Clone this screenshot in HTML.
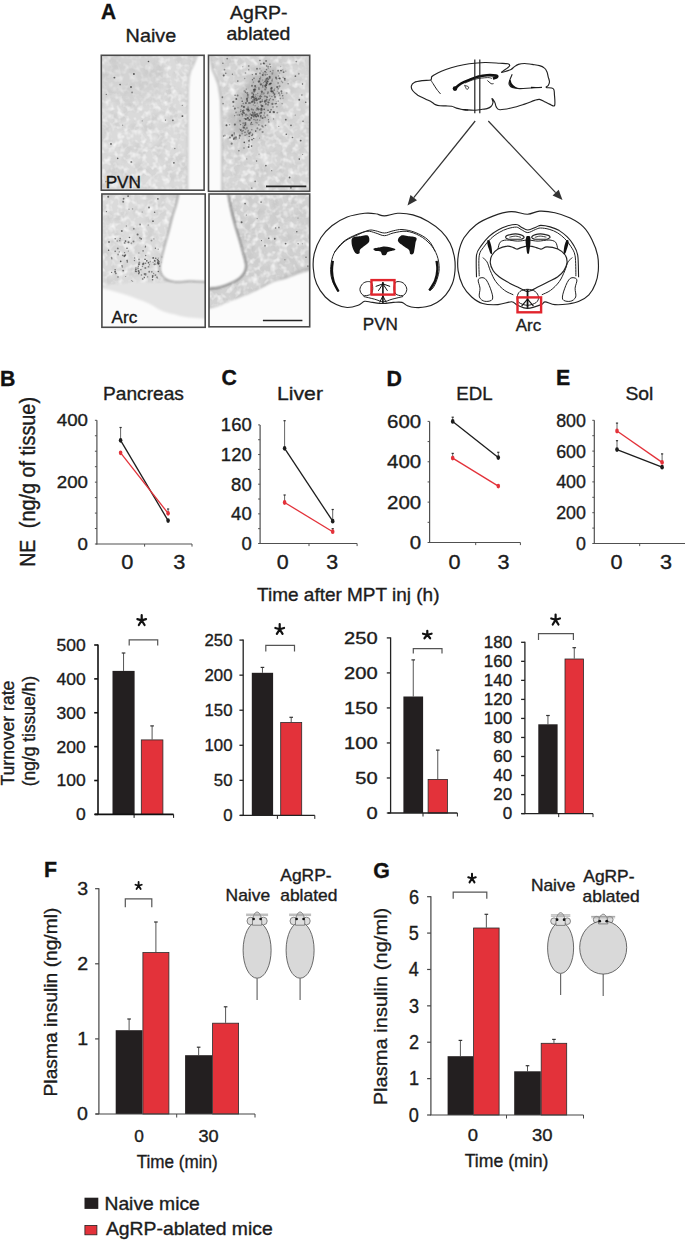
<!DOCTYPE html>
<html><head><meta charset="utf-8"><title>Figure</title>
<style>html,body{margin:0;padding:0;background:#fff;}body{width:685px;height:1240px;overflow:hidden;font-family:"Liberation Sans",sans-serif;}svg{display:block;}</style>
</head><body>
<svg width="685" height="1240" viewBox="0 0 685 1240" font-family="Liberation Sans, sans-serif"><text transform="translate(100.88,18.60) scale(0.940,1)" font-size="22.2" font-weight="bold" fill="#111" stroke="#111" stroke-width="0.35" xml:space="preserve">A</text>
<text transform="translate(125.62,42.30) scale(1.075,1)" font-size="18.4" fill="#1c1c1c" stroke="#1c1c1c" stroke-width="0.35" xml:space="preserve">Naive</text>
<text transform="translate(230.10,19.00) scale(1.070,1)" font-size="18.2" fill="#1c1c1c" stroke="#1c1c1c" stroke-width="0.35" xml:space="preserve">AgRP-</text>
<text transform="translate(226.52,40.40) scale(1.070,1)" font-size="18.2" fill="#1c1c1c" stroke="#1c1c1c" stroke-width="0.35" xml:space="preserve">ablated</text>
<defs>
<filter id="mott" x="0" y="0" width="1" height="1"><feTurbulence type="fractalNoise" baseFrequency="0.17" numOctaves="2" seed="3"/><feColorMatrix type="matrix" values="0 0 0 0 1  0 0 0 0 1  0 0 0 0 1  0 0 0 1.8 -0.82"/><feGaussianBlur stdDeviation="0.7"/></filter><filter id="mottd" x="0" y="0" width="1" height="1"><feTurbulence type="fractalNoise" baseFrequency="0.09" numOctaves="2" seed="11"/><feColorMatrix type="matrix" values="0 0 0 0 0.35  0 0 0 0 0.35  0 0 0 0 0.35  0 0 0 1.1 -0.5"/></filter>
<clipPath id="c0"><rect x="101.3" y="55.3" width="102.8" height="134.89999999999998"/></clipPath>
<clipPath id="c1"><rect x="208.5" y="55.3" width="101.19999999999999" height="136.0"/></clipPath>
<clipPath id="c2"><rect x="101.9" y="194" width="103.29999999999998" height="133.3"/></clipPath>
<clipPath id="c3"><rect x="209" y="194" width="100.69999999999999" height="132.8"/></clipPath>
</defs>
<defs><filter id="bl1" x="-50%" y="-50%" width="200%" height="200%"><feGaussianBlur stdDeviation="0.9"/></filter><filter id="bl05" x="-10%" y="-10%" width="120%" height="120%"><feGaussianBlur stdDeviation="0.45"/></filter><filter id="bl4" x="-50%" y="-50%" width="200%" height="200%"><feGaussianBlur stdDeviation="5"/></filter></defs>
<g clip-path="url(#c0)">
<rect x="101.30" y="55.30" width="102.80" height="134.90" fill="#dadada" stroke="none" stroke-width="0"/>
<rect x="101.3" y="55.3" width="102.8" height="134.89999999999998" filter="url(#mottd)" opacity="0.5"/>
<rect x="101.3" y="55.3" width="102.8" height="134.89999999999998" filter="url(#mott)"/>
<g filter="url(#bl1)"><circle cx="134.6" cy="75.6" r="2.1" fill="#f4f4f4" opacity="0.53"/><circle cx="156.4" cy="104.6" r="1.3" fill="#f4f4f4" opacity="0.70"/><circle cx="105.2" cy="113.8" r="1.3" fill="#f4f4f4" opacity="0.54"/><circle cx="144.9" cy="166.8" r="1.4" fill="#f4f4f4" opacity="0.59"/><circle cx="165.8" cy="183.1" r="2.0" fill="#f4f4f4" opacity="0.66"/><circle cx="201.7" cy="61.6" r="2.4" fill="#f4f4f4" opacity="0.62"/><circle cx="116.1" cy="71.2" r="1.6" fill="#f4f4f4" opacity="0.83"/><circle cx="119.9" cy="133.8" r="2.1" fill="#f4f4f4" opacity="0.65"/><circle cx="157.6" cy="63.8" r="1.3" fill="#f4f4f4" opacity="0.58"/><circle cx="171.2" cy="113.0" r="1.6" fill="#f4f4f4" opacity="0.73"/><circle cx="147.9" cy="95.7" r="2.3" fill="#f4f4f4" opacity="0.78"/><circle cx="126.4" cy="132.8" r="1.9" fill="#f4f4f4" opacity="0.85"/><circle cx="176.3" cy="94.1" r="2.6" fill="#f4f4f4" opacity="0.55"/><circle cx="144.3" cy="157.4" r="1.4" fill="#f4f4f4" opacity="0.70"/><circle cx="105.3" cy="145.4" r="2.3" fill="#f4f4f4" opacity="0.73"/><circle cx="191.3" cy="97.6" r="2.2" fill="#f4f4f4" opacity="0.74"/><circle cx="160.9" cy="116.8" r="2.4" fill="#f4f4f4" opacity="0.88"/><circle cx="150.0" cy="144.9" r="1.3" fill="#f4f4f4" opacity="0.78"/><circle cx="167.8" cy="189.3" r="2.4" fill="#f4f4f4" opacity="0.61"/><circle cx="141.0" cy="145.5" r="1.2" fill="#f4f4f4" opacity="0.68"/><circle cx="118.6" cy="71.1" r="1.3" fill="#f4f4f4" opacity="0.81"/><circle cx="114.6" cy="88.7" r="1.7" fill="#f4f4f4" opacity="0.85"/><circle cx="109.6" cy="115.9" r="2.0" fill="#f4f4f4" opacity="0.85"/><circle cx="185.5" cy="171.9" r="1.6" fill="#f4f4f4" opacity="0.67"/><circle cx="138.2" cy="174.6" r="2.5" fill="#f4f4f4" opacity="0.56"/><circle cx="119.4" cy="86.6" r="1.5" fill="#f4f4f4" opacity="0.69"/><circle cx="161.9" cy="90.7" r="1.2" fill="#f4f4f4" opacity="0.67"/><circle cx="139.3" cy="131.7" r="2.5" fill="#f4f4f4" opacity="0.78"/><circle cx="154.3" cy="138.6" r="2.1" fill="#f4f4f4" opacity="0.52"/><circle cx="193.8" cy="160.5" r="2.4" fill="#f4f4f4" opacity="0.82"/><circle cx="141.6" cy="109.1" r="1.3" fill="#f4f4f4" opacity="0.75"/><circle cx="107.7" cy="64.4" r="1.5" fill="#f4f4f4" opacity="0.56"/><circle cx="136.3" cy="62.4" r="1.2" fill="#f4f4f4" opacity="0.56"/><circle cx="111.7" cy="104.4" r="1.2" fill="#f4f4f4" opacity="0.85"/><circle cx="164.4" cy="75.3" r="1.6" fill="#f4f4f4" opacity="0.64"/></g>
<rect x="101.3" y="55.3" width="60" height="45" fill="#c4c4c4" opacity="0.3" filter="url(#bl4)"/>
<g filter="url(#bl05)"><circle cx="133.9" cy="74.0" r="0.93" fill="#444" opacity="0.90"/><circle cx="142.2" cy="120.9" r="0.59" fill="#444" opacity="0.50"/><circle cx="132.1" cy="92.4" r="0.92" fill="#444" opacity="0.52"/><circle cx="105.9" cy="181.6" r="0.79" fill="#444" opacity="0.52"/><circle cx="148.5" cy="61.5" r="0.79" fill="#444" opacity="0.89"/><circle cx="174.8" cy="148.5" r="0.67" fill="#444" opacity="0.62"/><circle cx="117.7" cy="158.4" r="0.79" fill="#444" opacity="0.80"/><circle cx="131.0" cy="87.0" r="0.92" fill="#444" opacity="0.89"/><circle cx="173.9" cy="162.8" r="0.92" fill="#444" opacity="0.78"/><circle cx="122.6" cy="125.3" r="0.71" fill="#444" opacity="0.46"/><circle cx="106.3" cy="94.3" r="0.67" fill="#444" opacity="0.76"/><circle cx="182.4" cy="116.1" r="0.97" fill="#444" opacity="0.89"/><circle cx="182.3" cy="105.4" r="0.65" fill="#444" opacity="0.55"/><circle cx="120.1" cy="84.6" r="0.83" fill="#444" opacity="0.86"/><circle cx="172.9" cy="120.3" r="0.84" fill="#444" opacity="0.81"/><circle cx="111.0" cy="143.9" r="0.96" fill="#444" opacity="0.80"/><circle cx="165.5" cy="120.1" r="0.63" fill="#444" opacity="0.81"/><circle cx="131.3" cy="162.1" r="0.99" fill="#444" opacity="0.63"/><circle cx="136.9" cy="181.1" r="0.88" fill="#444" opacity="0.53"/><circle cx="114.4" cy="77.6" r="0.96" fill="#444" opacity="0.81"/></g>
<g filter="url(#bl1)"><path d="M198.0,52.0 L197.0,56.0 L194.0,64.0 L190.5,71.0 L189.0,77.0 L188.2,90.0 L187.8,120.0 L187.5,200.0 L210.0,200.0 L210.0,52.0 Z" fill="#fbfbfb"/>
<path d="M198,52 L197,56 L194,64 L190.5,71 L189,77 L188.2,90 L187.8,120 L187.5,200" fill="none" stroke="#c0c0c0" stroke-width="1.4"/></g>
</g>
<g clip-path="url(#c1)">
<rect x="208.50" y="55.30" width="101.20" height="136.00" fill="#d5d5d5" stroke="none" stroke-width="0"/>
<rect x="208.5" y="55.3" width="101.19999999999999" height="136.0" filter="url(#mottd)" opacity="0.5"/>
<rect x="208.5" y="55.3" width="101.19999999999999" height="136.0" filter="url(#mott)"/>
<g filter="url(#bl1)"><circle cx="223.3" cy="167.7" r="2.6" fill="#f4f4f4" opacity="0.76"/><circle cx="244.0" cy="129.9" r="1.4" fill="#f4f4f4" opacity="0.51"/><circle cx="306.8" cy="143.7" r="1.9" fill="#f4f4f4" opacity="0.87"/><circle cx="252.4" cy="173.9" r="2.4" fill="#f4f4f4" opacity="0.58"/><circle cx="234.0" cy="95.1" r="1.5" fill="#f4f4f4" opacity="0.73"/><circle cx="234.7" cy="112.3" r="1.4" fill="#f4f4f4" opacity="0.86"/><circle cx="244.3" cy="117.6" r="2.0" fill="#f4f4f4" opacity="0.86"/><circle cx="251.1" cy="180.1" r="1.9" fill="#f4f4f4" opacity="0.71"/><circle cx="261.5" cy="57.8" r="1.8" fill="#f4f4f4" opacity="0.57"/><circle cx="208.9" cy="164.0" r="1.4" fill="#f4f4f4" opacity="0.69"/><circle cx="281.9" cy="131.0" r="1.7" fill="#f4f4f4" opacity="0.71"/><circle cx="264.7" cy="162.0" r="1.3" fill="#f4f4f4" opacity="0.72"/><circle cx="233.6" cy="93.0" r="2.3" fill="#f4f4f4" opacity="0.70"/><circle cx="265.3" cy="158.7" r="2.5" fill="#f4f4f4" opacity="0.68"/><circle cx="270.5" cy="124.1" r="1.9" fill="#f4f4f4" opacity="0.78"/><circle cx="254.3" cy="127.8" r="1.9" fill="#f4f4f4" opacity="0.88"/><circle cx="279.3" cy="174.5" r="2.5" fill="#f4f4f4" opacity="0.60"/><circle cx="265.1" cy="183.6" r="2.4" fill="#f4f4f4" opacity="0.55"/><circle cx="220.8" cy="115.4" r="1.3" fill="#f4f4f4" opacity="0.60"/><circle cx="215.9" cy="146.3" r="2.3" fill="#f4f4f4" opacity="0.86"/><circle cx="224.1" cy="152.7" r="2.1" fill="#f4f4f4" opacity="0.56"/><circle cx="297.8" cy="186.9" r="1.5" fill="#f4f4f4" opacity="0.88"/><circle cx="248.8" cy="121.6" r="2.6" fill="#f4f4f4" opacity="0.83"/><circle cx="224.8" cy="114.0" r="1.9" fill="#f4f4f4" opacity="0.64"/><circle cx="228.3" cy="98.6" r="2.2" fill="#f4f4f4" opacity="0.51"/><circle cx="264.6" cy="115.2" r="1.2" fill="#f4f4f4" opacity="0.63"/><circle cx="271.6" cy="125.0" r="1.3" fill="#f4f4f4" opacity="0.89"/><circle cx="288.3" cy="187.5" r="1.3" fill="#f4f4f4" opacity="0.61"/><circle cx="212.5" cy="161.2" r="1.6" fill="#f4f4f4" opacity="0.55"/><circle cx="251.2" cy="179.3" r="2.3" fill="#f4f4f4" opacity="0.60"/><circle cx="223.6" cy="180.3" r="2.0" fill="#f4f4f4" opacity="0.78"/><circle cx="217.6" cy="63.1" r="2.2" fill="#f4f4f4" opacity="0.67"/><circle cx="215.8" cy="182.9" r="2.1" fill="#f4f4f4" opacity="0.82"/><circle cx="217.0" cy="171.7" r="1.3" fill="#f4f4f4" opacity="0.85"/><circle cx="254.4" cy="101.4" r="2.0" fill="#f4f4f4" opacity="0.87"/></g>
<ellipse cx="256" cy="102" rx="17" ry="40" transform="rotate(27 256 102)" fill="#999" opacity="0.5" filter="url(#bl4)"/>
<g filter="url(#bl05)"><circle cx="254.2" cy="97.3" r="0.89" fill="#333" opacity="0.36"/><circle cx="249.3" cy="110.6" r="0.63" fill="#333" opacity="0.34"/><circle cx="255.1" cy="89.6" r="1.02" fill="#333" opacity="0.38"/><circle cx="265.5" cy="85.5" r="0.79" fill="#333" opacity="0.26"/><circle cx="256.5" cy="100.2" r="1.00" fill="#333" opacity="0.50"/><circle cx="243.9" cy="106.9" r="1.11" fill="#333" opacity="0.30"/><circle cx="260.9" cy="115.9" r="0.87" fill="#333" opacity="0.63"/><circle cx="262.8" cy="74.9" r="0.98" fill="#333" opacity="0.69"/><circle cx="257.0" cy="68.8" r="0.99" fill="#333" opacity="0.54"/><circle cx="262.7" cy="80.0" r="0.63" fill="#333" opacity="0.31"/><circle cx="234.2" cy="134.5" r="0.74" fill="#333" opacity="0.32"/><circle cx="229.9" cy="137.6" r="1.08" fill="#333" opacity="0.55"/><circle cx="253.5" cy="94.2" r="0.76" fill="#333" opacity="0.46"/><circle cx="243.1" cy="111.8" r="0.74" fill="#333" opacity="0.68"/><circle cx="245.0" cy="132.3" r="0.73" fill="#333" opacity="0.68"/><circle cx="254.7" cy="88.8" r="0.60" fill="#333" opacity="0.42"/><circle cx="270.4" cy="71.4" r="0.71" fill="#333" opacity="0.48"/><circle cx="248.4" cy="120.1" r="0.65" fill="#333" opacity="0.43"/><circle cx="255.1" cy="105.7" r="0.77" fill="#333" opacity="0.35"/><circle cx="276.0" cy="77.6" r="1.01" fill="#333" opacity="0.55"/><circle cx="280.4" cy="98.5" r="0.81" fill="#333" opacity="0.40"/><circle cx="251.7" cy="115.1" r="1.00" fill="#333" opacity="0.54"/><circle cx="231.7" cy="143.7" r="1.09" fill="#333" opacity="0.53"/><circle cx="275.8" cy="103.9" r="0.68" fill="#333" opacity="0.49"/><circle cx="253.2" cy="97.0" r="0.92" fill="#333" opacity="0.65"/><circle cx="277.5" cy="91.3" r="0.73" fill="#333" opacity="0.26"/><circle cx="244.4" cy="113.6" r="0.66" fill="#333" opacity="0.63"/><circle cx="278.1" cy="70.7" r="0.94" fill="#333" opacity="0.56"/><circle cx="258.9" cy="98.9" r="1.04" fill="#333" opacity="0.59"/><circle cx="273.0" cy="70.6" r="0.96" fill="#333" opacity="0.28"/><circle cx="265.2" cy="102.5" r="0.64" fill="#333" opacity="0.37"/><circle cx="264.8" cy="101.5" r="1.01" fill="#333" opacity="0.69"/><circle cx="269.5" cy="76.6" r="0.86" fill="#333" opacity="0.56"/><circle cx="268.0" cy="110.3" r="0.95" fill="#333" opacity="0.28"/><circle cx="247.3" cy="109.7" r="1.01" fill="#333" opacity="0.39"/><circle cx="260.3" cy="97.6" r="0.63" fill="#333" opacity="0.37"/><circle cx="278.2" cy="88.8" r="0.97" fill="#333" opacity="0.38"/><circle cx="272.3" cy="74.0" r="0.86" fill="#333" opacity="0.30"/><circle cx="255.2" cy="115.5" r="1.14" fill="#333" opacity="0.67"/><circle cx="243.7" cy="127.5" r="1.05" fill="#333" opacity="0.69"/><circle cx="264.9" cy="81.4" r="0.72" fill="#333" opacity="0.68"/><circle cx="243.2" cy="103.5" r="0.68" fill="#333" opacity="0.49"/><circle cx="253.2" cy="114.1" r="1.05" fill="#333" opacity="0.48"/><circle cx="252.5" cy="134.2" r="0.73" fill="#333" opacity="0.65"/><circle cx="260.5" cy="95.3" r="0.60" fill="#333" opacity="0.47"/><circle cx="265.5" cy="80.0" r="0.68" fill="#333" opacity="0.40"/><circle cx="252.3" cy="74.6" r="0.60" fill="#333" opacity="0.59"/><circle cx="258.4" cy="109.3" r="1.11" fill="#333" opacity="0.57"/><circle cx="254.0" cy="119.5" r="0.80" fill="#333" opacity="0.43"/><circle cx="242.1" cy="133.8" r="0.80" fill="#333" opacity="0.44"/><circle cx="255.9" cy="98.4" r="0.66" fill="#333" opacity="0.63"/><circle cx="244.7" cy="78.6" r="0.74" fill="#333" opacity="0.37"/><circle cx="266.1" cy="85.2" r="0.81" fill="#333" opacity="0.68"/><circle cx="252.0" cy="139.6" r="0.95" fill="#333" opacity="0.66"/><circle cx="247.8" cy="131.7" r="1.00" fill="#333" opacity="0.27"/><circle cx="268.7" cy="102.5" r="1.01" fill="#333" opacity="0.54"/><circle cx="256.2" cy="97.9" r="1.11" fill="#333" opacity="0.31"/><circle cx="267.5" cy="78.0" r="0.76" fill="#333" opacity="0.58"/><circle cx="249.8" cy="120.3" r="0.96" fill="#333" opacity="0.39"/><circle cx="272.3" cy="79.3" r="0.69" fill="#333" opacity="0.32"/><circle cx="233.3" cy="106.2" r="0.87" fill="#333" opacity="0.35"/><circle cx="262.8" cy="87.4" r="0.71" fill="#333" opacity="0.29"/><circle cx="257.7" cy="93.5" r="0.73" fill="#333" opacity="0.37"/><circle cx="268.6" cy="79.1" r="0.83" fill="#333" opacity="0.49"/><circle cx="275.9" cy="78.2" r="0.63" fill="#333" opacity="0.37"/><circle cx="246.0" cy="114.4" r="0.88" fill="#333" opacity="0.53"/><circle cx="255.4" cy="96.4" r="0.75" fill="#333" opacity="0.36"/><circle cx="271.9" cy="91.5" r="1.12" fill="#333" opacity="0.63"/><circle cx="249.1" cy="116.0" r="0.62" fill="#333" opacity="0.57"/><circle cx="252.1" cy="93.5" r="0.92" fill="#333" opacity="0.25"/><circle cx="281.4" cy="91.3" r="1.05" fill="#333" opacity="0.63"/><circle cx="234.4" cy="133.2" r="0.66" fill="#333" opacity="0.32"/><circle cx="272.4" cy="103.9" r="1.12" fill="#333" opacity="0.57"/><circle cx="269.3" cy="99.9" r="0.85" fill="#333" opacity="0.50"/><circle cx="259.9" cy="60.4" r="0.73" fill="#333" opacity="0.66"/><circle cx="257.3" cy="113.6" r="0.67" fill="#333" opacity="0.36"/><circle cx="274.8" cy="88.5" r="0.66" fill="#333" opacity="0.28"/><circle cx="283.2" cy="77.6" r="0.81" fill="#333" opacity="0.35"/><circle cx="261.4" cy="96.4" r="0.77" fill="#333" opacity="0.46"/><circle cx="247.2" cy="93.0" r="1.09" fill="#333" opacity="0.46"/><circle cx="261.8" cy="91.6" r="1.13" fill="#333" opacity="0.57"/><circle cx="249.6" cy="119.7" r="0.87" fill="#333" opacity="0.55"/><circle cx="261.4" cy="108.5" r="0.97" fill="#333" opacity="0.67"/><circle cx="253.2" cy="109.9" r="0.79" fill="#333" opacity="0.44"/><circle cx="257.2" cy="108.4" r="1.04" fill="#333" opacity="0.58"/><circle cx="271.1" cy="88.8" r="1.13" fill="#333" opacity="0.39"/><circle cx="255.6" cy="99.1" r="0.72" fill="#333" opacity="0.59"/><circle cx="271.7" cy="87.6" r="0.87" fill="#333" opacity="0.33"/><circle cx="247.2" cy="100.9" r="0.97" fill="#333" opacity="0.68"/><circle cx="243.9" cy="112.5" r="0.72" fill="#333" opacity="0.69"/><circle cx="253.4" cy="104.9" r="0.63" fill="#333" opacity="0.43"/><circle cx="248.6" cy="147.0" r="1.00" fill="#333" opacity="0.70"/><circle cx="251.4" cy="122.4" r="0.70" fill="#333" opacity="0.67"/><circle cx="260.2" cy="101.8" r="0.97" fill="#333" opacity="0.42"/><circle cx="260.1" cy="82.7" r="0.69" fill="#333" opacity="0.25"/><circle cx="252.3" cy="92.8" r="1.13" fill="#333" opacity="0.31"/><circle cx="251.3" cy="117.9" r="0.80" fill="#333" opacity="0.62"/><circle cx="260.6" cy="116.3" r="0.63" fill="#333" opacity="0.46"/><circle cx="235.8" cy="139.1" r="1.09" fill="#333" opacity="0.26"/><circle cx="260.5" cy="129.3" r="1.02" fill="#333" opacity="0.27"/><circle cx="243.3" cy="123.3" r="1.11" fill="#333" opacity="0.37"/><circle cx="257.4" cy="103.0" r="0.79" fill="#333" opacity="0.37"/><circle cx="245.1" cy="135.3" r="0.74" fill="#333" opacity="0.57"/><circle cx="255.6" cy="89.8" r="0.60" fill="#333" opacity="0.59"/><circle cx="249.3" cy="134.0" r="1.12" fill="#333" opacity="0.26"/><circle cx="247.0" cy="99.0" r="1.13" fill="#333" opacity="0.68"/><circle cx="260.7" cy="84.7" r="0.84" fill="#333" opacity="0.47"/><circle cx="253.5" cy="116.1" r="1.04" fill="#333" opacity="0.58"/><circle cx="262.1" cy="126.0" r="0.93" fill="#333" opacity="0.40"/><circle cx="255.5" cy="87.5" r="1.03" fill="#333" opacity="0.29"/><circle cx="238.0" cy="107.7" r="0.74" fill="#333" opacity="0.28"/><circle cx="240.8" cy="130.3" r="0.78" fill="#333" opacity="0.69"/><circle cx="254.9" cy="98.2" r="0.65" fill="#333" opacity="0.47"/><circle cx="270.3" cy="98.6" r="0.73" fill="#333" opacity="0.44"/><circle cx="279.8" cy="78.4" r="1.01" fill="#333" opacity="0.63"/><circle cx="264.9" cy="96.3" r="1.06" fill="#333" opacity="0.38"/><circle cx="272.0" cy="80.8" r="1.01" fill="#333" opacity="0.34"/><circle cx="251.4" cy="98.1" r="0.68" fill="#333" opacity="0.65"/><circle cx="271.0" cy="83.4" r="0.82" fill="#333" opacity="0.70"/><circle cx="267.0" cy="83.2" r="1.04" fill="#333" opacity="0.54"/><circle cx="252.7" cy="112.4" r="0.86" fill="#333" opacity="0.62"/><circle cx="259.6" cy="138.1" r="0.62" fill="#333" opacity="0.38"/><circle cx="248.5" cy="110.7" r="1.14" fill="#333" opacity="0.51"/><circle cx="251.0" cy="124.1" r="1.08" fill="#333" opacity="0.45"/><circle cx="244.5" cy="91.0" r="1.12" fill="#333" opacity="0.30"/><circle cx="278.5" cy="76.0" r="0.72" fill="#333" opacity="0.42"/><circle cx="248.4" cy="109.2" r="0.74" fill="#333" opacity="0.52"/><circle cx="267.4" cy="93.6" r="0.61" fill="#333" opacity="0.40"/><circle cx="266.3" cy="96.4" r="0.77" fill="#333" opacity="0.34"/><circle cx="264.1" cy="114.6" r="0.63" fill="#333" opacity="0.30"/><circle cx="263.4" cy="73.1" r="0.95" fill="#333" opacity="0.29"/><circle cx="237.2" cy="115.0" r="0.83" fill="#333" opacity="0.38"/><circle cx="248.8" cy="69.7" r="0.77" fill="#333" opacity="0.50"/><circle cx="258.8" cy="81.6" r="1.08" fill="#333" opacity="0.70"/><circle cx="258.9" cy="88.1" r="1.00" fill="#333" opacity="0.34"/><circle cx="271.1" cy="109.7" r="0.82" fill="#333" opacity="0.65"/><circle cx="252.7" cy="124.3" r="0.61" fill="#333" opacity="0.50"/><circle cx="268.1" cy="110.3" r="0.65" fill="#333" opacity="0.53"/><circle cx="260.5" cy="77.3" r="0.68" fill="#333" opacity="0.38"/><circle cx="253.9" cy="89.7" r="1.04" fill="#333" opacity="0.69"/><circle cx="247.8" cy="118.2" r="1.12" fill="#333" opacity="0.69"/><circle cx="254.9" cy="114.4" r="1.11" fill="#333" opacity="0.42"/><circle cx="247.8" cy="97.0" r="1.05" fill="#333" opacity="0.32"/><circle cx="266.1" cy="80.9" r="0.82" fill="#333" opacity="0.63"/><circle cx="263.7" cy="82.6" r="0.72" fill="#333" opacity="0.43"/><circle cx="273.0" cy="91.2" r="0.67" fill="#333" opacity="0.36"/><circle cx="262.2" cy="99.6" r="0.62" fill="#333" opacity="0.50"/><circle cx="260.2" cy="102.4" r="1.06" fill="#333" opacity="0.30"/><circle cx="276.6" cy="78.8" r="0.94" fill="#333" opacity="0.39"/><circle cx="266.5" cy="69.7" r="0.83" fill="#333" opacity="0.55"/><circle cx="267.2" cy="74.5" r="0.61" fill="#333" opacity="0.53"/><circle cx="266.4" cy="82.7" r="1.02" fill="#333" opacity="0.60"/><circle cx="263.9" cy="85.3" r="0.86" fill="#333" opacity="0.30"/><circle cx="242.6" cy="115.8" r="0.65" fill="#333" opacity="0.45"/><circle cx="261.6" cy="93.9" r="0.95" fill="#333" opacity="0.29"/><circle cx="274.9" cy="103.7" r="0.88" fill="#333" opacity="0.27"/><circle cx="269.9" cy="77.0" r="1.12" fill="#333" opacity="0.31"/><circle cx="276.1" cy="103.4" r="0.71" fill="#333" opacity="0.69"/><circle cx="252.0" cy="101.9" r="1.03" fill="#333" opacity="0.67"/><circle cx="254.4" cy="89.9" r="1.02" fill="#333" opacity="0.32"/><circle cx="248.1" cy="107.4" r="1.05" fill="#333" opacity="0.31"/><circle cx="283.0" cy="98.3" r="0.71" fill="#333" opacity="0.37"/><circle cx="265.9" cy="103.8" r="0.62" fill="#333" opacity="0.33"/><circle cx="247.8" cy="94.9" r="0.97" fill="#333" opacity="0.65"/><circle cx="234.7" cy="115.6" r="0.66" fill="#333" opacity="0.49"/><circle cx="271.5" cy="88.7" r="1.08" fill="#333" opacity="0.50"/><circle cx="248.7" cy="66.0" r="0.95" fill="#333" opacity="0.43"/><circle cx="261.6" cy="109.7" r="1.14" fill="#333" opacity="0.51"/><circle cx="259.9" cy="68.7" r="0.84" fill="#333" opacity="0.33"/><circle cx="260.8" cy="101.9" r="1.05" fill="#333" opacity="0.36"/><circle cx="279.7" cy="72.9" r="0.77" fill="#333" opacity="0.25"/><circle cx="250.3" cy="114.1" r="0.94" fill="#333" opacity="0.44"/><circle cx="255.9" cy="94.7" r="0.96" fill="#333" opacity="0.26"/><circle cx="243.6" cy="110.0" r="0.66" fill="#333" opacity="0.41"/><circle cx="256.0" cy="100.4" r="0.92" fill="#333" opacity="0.34"/><circle cx="249.2" cy="136.4" r="0.67" fill="#333" opacity="0.67"/><circle cx="267.4" cy="81.2" r="0.65" fill="#333" opacity="0.54"/><circle cx="240.9" cy="109.9" r="0.82" fill="#333" opacity="0.37"/><circle cx="260.9" cy="63.9" r="0.91" fill="#333" opacity="0.41"/><circle cx="262.4" cy="106.2" r="1.12" fill="#333" opacity="0.58"/><circle cx="268.1" cy="79.7" r="0.62" fill="#333" opacity="0.49"/><circle cx="261.8" cy="84.1" r="0.63" fill="#333" opacity="0.60"/><circle cx="242.0" cy="131.5" r="1.12" fill="#333" opacity="0.31"/><circle cx="241.8" cy="106.0" r="0.88" fill="#333" opacity="0.54"/><circle cx="260.0" cy="109.2" r="0.77" fill="#333" opacity="0.39"/><circle cx="247.7" cy="115.0" r="0.60" fill="#333" opacity="0.63"/><circle cx="268.0" cy="104.7" r="1.01" fill="#333" opacity="0.45"/><circle cx="253.2" cy="100.7" r="0.73" fill="#333" opacity="0.27"/><circle cx="256.0" cy="74.0" r="0.98" fill="#333" opacity="0.63"/><circle cx="266.8" cy="99.5" r="0.90" fill="#333" opacity="0.45"/><circle cx="264.6" cy="113.0" r="0.75" fill="#333" opacity="0.54"/><circle cx="251.1" cy="118.3" r="1.08" fill="#333" opacity="0.26"/><circle cx="252.3" cy="96.7" r="1.01" fill="#333" opacity="0.68"/><circle cx="265.9" cy="104.1" r="1.08" fill="#333" opacity="0.40"/><circle cx="237.6" cy="95.5" r="0.95" fill="#333" opacity="0.56"/><circle cx="295.4" cy="76.2" r="0.86" fill="#333" opacity="0.63"/><circle cx="281.6" cy="93.0" r="0.84" fill="#333" opacity="0.58"/><circle cx="270.4" cy="83.4" r="0.72" fill="#333" opacity="0.53"/><circle cx="244.4" cy="125.7" r="0.66" fill="#333" opacity="0.67"/><circle cx="258.4" cy="106.7" r="0.62" fill="#333" opacity="0.27"/><circle cx="256.8" cy="114.2" r="0.98" fill="#333" opacity="0.58"/><circle cx="263.5" cy="63.2" r="0.80" fill="#333" opacity="0.62"/><circle cx="243.9" cy="110.4" r="0.64" fill="#333" opacity="0.64"/><circle cx="268.2" cy="68.4" r="0.66" fill="#333" opacity="0.27"/><circle cx="243.9" cy="106.9" r="0.95" fill="#333" opacity="0.62"/><circle cx="280.7" cy="66.5" r="0.65" fill="#333" opacity="0.29"/><circle cx="265.0" cy="85.9" r="0.78" fill="#333" opacity="0.44"/><circle cx="259.6" cy="81.1" r="0.76" fill="#333" opacity="0.57"/><circle cx="261.9" cy="105.9" r="1.13" fill="#333" opacity="0.48"/><circle cx="243.2" cy="113.4" r="0.62" fill="#333" opacity="0.44"/><circle cx="284.9" cy="80.1" r="0.79" fill="#333" opacity="0.57"/><circle cx="255.8" cy="120.2" r="1.07" fill="#333" opacity="0.29"/><circle cx="257.8" cy="95.8" r="0.60" fill="#333" opacity="0.34"/><circle cx="262.8" cy="86.4" r="0.60" fill="#333" opacity="0.47"/><circle cx="252.9" cy="101.3" r="0.79" fill="#333" opacity="0.62"/><circle cx="246.5" cy="127.9" r="0.76" fill="#333" opacity="0.35"/><circle cx="271.9" cy="96.5" r="0.66" fill="#333" opacity="0.54"/><circle cx="232.2" cy="135.2" r="0.98" fill="#333" opacity="0.60"/><circle cx="271.6" cy="87.7" r="0.82" fill="#333" opacity="0.43"/><circle cx="256.4" cy="110.1" r="1.09" fill="#333" opacity="0.26"/><circle cx="249.0" cy="103.0" r="1.10" fill="#333" opacity="0.48"/><circle cx="239.9" cy="135.5" r="0.89" fill="#333" opacity="0.59"/><circle cx="244.5" cy="128.0" r="0.79" fill="#333" opacity="0.40"/><circle cx="266.1" cy="60.9" r="0.96" fill="#333" opacity="0.58"/><circle cx="234.4" cy="137.9" r="1.03" fill="#333" opacity="0.51"/><circle cx="240.0" cy="120.8" r="1.09" fill="#333" opacity="0.36"/><circle cx="245.9" cy="119.1" r="0.99" fill="#333" opacity="0.63"/><circle cx="245.7" cy="119.0" r="0.74" fill="#333" opacity="0.40"/><circle cx="257.2" cy="115.2" r="0.78" fill="#333" opacity="0.34"/><circle cx="245.4" cy="92.2" r="0.66" fill="#333" opacity="0.68"/><circle cx="254.3" cy="91.4" r="1.14" fill="#333" opacity="0.61"/><circle cx="251.9" cy="115.8" r="0.71" fill="#333" opacity="0.54"/><circle cx="266.2" cy="72.5" r="0.81" fill="#333" opacity="0.27"/><circle cx="265.1" cy="117.2" r="0.98" fill="#333" opacity="0.48"/><circle cx="251.8" cy="129.8" r="0.68" fill="#333" opacity="0.52"/><circle cx="279.5" cy="86.3" r="1.10" fill="#333" opacity="0.44"/><circle cx="259.6" cy="129.9" r="0.83" fill="#333" opacity="0.35"/><circle cx="270.0" cy="84.1" r="1.03" fill="#333" opacity="0.57"/><circle cx="257.4" cy="128.2" r="0.95" fill="#333" opacity="0.45"/><circle cx="253.4" cy="82.1" r="0.65" fill="#333" opacity="0.44"/><circle cx="267.4" cy="115.2" r="0.95" fill="#333" opacity="0.36"/><circle cx="265.4" cy="74.7" r="0.94" fill="#333" opacity="0.43"/><circle cx="288.1" cy="83.8" r="0.70" fill="#333" opacity="0.54"/><circle cx="264.2" cy="109.3" r="0.87" fill="#333" opacity="0.69"/><circle cx="240.9" cy="129.6" r="0.69" fill="#333" opacity="0.60"/><circle cx="248.2" cy="130.5" r="0.66" fill="#333" opacity="0.51"/><circle cx="275.0" cy="96.9" r="1.06" fill="#333" opacity="0.48"/><circle cx="276.9" cy="106.8" r="0.72" fill="#333" opacity="0.56"/><circle cx="253.7" cy="138.4" r="0.67" fill="#333" opacity="0.69"/><circle cx="247.1" cy="127.9" r="0.75" fill="#333" opacity="0.43"/><circle cx="245.9" cy="103.2" r="0.83" fill="#333" opacity="0.56"/><circle cx="261.0" cy="105.0" r="0.72" fill="#333" opacity="0.58"/><circle cx="240.7" cy="111.6" r="0.72" fill="#333" opacity="0.61"/><circle cx="268.0" cy="92.0" r="0.67" fill="#333" opacity="0.60"/><circle cx="248.4" cy="109.4" r="0.86" fill="#333" opacity="0.50"/><circle cx="270.5" cy="66.8" r="0.79" fill="#333" opacity="0.54"/><circle cx="263.0" cy="126.8" r="0.86" fill="#333" opacity="0.38"/><circle cx="265.2" cy="89.4" r="1.06" fill="#333" opacity="0.41"/><circle cx="257.8" cy="115.0" r="0.81" fill="#333" opacity="0.36"/><circle cx="262.4" cy="85.6" r="0.60" fill="#333" opacity="0.57"/><circle cx="253.5" cy="94.2" r="0.77" fill="#333" opacity="0.47"/><circle cx="268.1" cy="66.8" r="0.96" fill="#333" opacity="0.41"/><circle cx="244.0" cy="148.0" r="0.63" fill="#333" opacity="0.62"/><circle cx="248.9" cy="140.7" r="0.68" fill="#333" opacity="0.62"/><circle cx="260.5" cy="98.6" r="0.61" fill="#333" opacity="0.68"/><circle cx="268.4" cy="93.1" r="0.66" fill="#333" opacity="0.31"/><circle cx="241.2" cy="98.1" r="0.79" fill="#333" opacity="0.32"/><circle cx="249.1" cy="141.0" r="0.69" fill="#333" opacity="0.65"/><circle cx="283.6" cy="72.1" r="0.97" fill="#333" opacity="0.65"/><circle cx="268.4" cy="119.8" r="0.71" fill="#333" opacity="0.56"/><circle cx="278.2" cy="101.1" r="0.91" fill="#333" opacity="0.37"/><circle cx="248.2" cy="119.8" r="0.87" fill="#333" opacity="0.28"/><circle cx="256.1" cy="116.6" r="0.87" fill="#333" opacity="0.47"/><circle cx="273.1" cy="111.8" r="0.60" fill="#333" opacity="0.63"/><circle cx="274.6" cy="94.1" r="0.97" fill="#333" opacity="0.63"/><circle cx="261.2" cy="110.3" r="1.13" fill="#333" opacity="0.28"/><circle cx="257.1" cy="122.9" r="0.62" fill="#333" opacity="0.52"/><circle cx="279.1" cy="78.3" r="0.78" fill="#333" opacity="0.69"/><circle cx="272.4" cy="73.0" r="1.09" fill="#333" opacity="0.27"/><circle cx="273.1" cy="99.8" r="0.79" fill="#333" opacity="0.64"/><circle cx="259.9" cy="78.8" r="0.89" fill="#333" opacity="0.60"/><circle cx="246.0" cy="103.0" r="0.83" fill="#333" opacity="0.50"/><circle cx="259.7" cy="113.5" r="1.06" fill="#333" opacity="0.43"/><circle cx="267.7" cy="81.4" r="0.88" fill="#333" opacity="0.69"/><circle cx="282.5" cy="82.4" r="0.78" fill="#333" opacity="0.39"/><circle cx="252.0" cy="85.7" r="0.95" fill="#333" opacity="0.60"/><circle cx="236.0" cy="137.4" r="1.09" fill="#333" opacity="0.50"/><circle cx="246.1" cy="119.6" r="0.60" fill="#333" opacity="0.34"/><circle cx="249.1" cy="133.3" r="0.96" fill="#333" opacity="0.61"/><circle cx="250.4" cy="132.5" r="0.94" fill="#333" opacity="0.53"/><circle cx="274.2" cy="95.2" r="0.97" fill="#333" opacity="0.35"/><circle cx="272.8" cy="91.3" r="1.02" fill="#333" opacity="0.30"/><circle cx="254.5" cy="102.7" r="1.03" fill="#333" opacity="0.66"/><circle cx="271.2" cy="91.0" r="1.05" fill="#333" opacity="0.60"/><circle cx="269.1" cy="84.5" r="0.77" fill="#333" opacity="0.44"/><circle cx="255.1" cy="86.0" r="0.95" fill="#333" opacity="0.67"/><circle cx="239.6" cy="129.1" r="0.62" fill="#333" opacity="0.30"/><circle cx="262.6" cy="117.9" r="1.11" fill="#333" opacity="0.45"/><circle cx="245.4" cy="124.8" r="0.93" fill="#333" opacity="0.67"/><circle cx="245.6" cy="129.2" r="0.83" fill="#333" opacity="0.30"/><circle cx="267.8" cy="92.7" r="0.68" fill="#333" opacity="0.26"/><circle cx="239.4" cy="138.0" r="0.67" fill="#333" opacity="0.68"/><circle cx="228.3" cy="138.7" r="0.67" fill="#333" opacity="0.26"/><circle cx="266.0" cy="100.4" r="1.00" fill="#333" opacity="0.33"/><circle cx="233.8" cy="139.0" r="0.99" fill="#333" opacity="0.63"/><circle cx="262.2" cy="101.3" r="0.95" fill="#333" opacity="0.57"/><circle cx="251.7" cy="115.2" r="0.99" fill="#333" opacity="0.26"/><circle cx="239.5" cy="135.9" r="1.05" fill="#333" opacity="0.29"/><circle cx="252.5" cy="79.8" r="0.69" fill="#333" opacity="0.64"/><circle cx="261.9" cy="92.2" r="0.80" fill="#333" opacity="0.51"/><circle cx="269.9" cy="64.3" r="0.68" fill="#333" opacity="0.61"/><circle cx="260.0" cy="73.2" r="0.95" fill="#333" opacity="0.44"/><circle cx="264.0" cy="63.5" r="1.12" fill="#333" opacity="0.60"/><circle cx="270.0" cy="83.6" r="0.63" fill="#333" opacity="0.69"/><circle cx="279.8" cy="95.0" r="0.78" fill="#333" opacity="0.52"/><circle cx="267.1" cy="97.2" r="0.84" fill="#333" opacity="0.65"/><circle cx="273.4" cy="92.9" r="0.93" fill="#333" opacity="0.65"/><circle cx="242.8" cy="125.9" r="0.60" fill="#333" opacity="0.37"/><circle cx="277.2" cy="87.0" r="1.05" fill="#333" opacity="0.65"/><circle cx="234.9" cy="108.6" r="1.05" fill="#333" opacity="0.64"/><circle cx="258.2" cy="116.1" r="1.07" fill="#333" opacity="0.61"/><circle cx="269.7" cy="96.0" r="0.79" fill="#333" opacity="0.29"/><circle cx="260.7" cy="84.2" r="1.11" fill="#333" opacity="0.36"/><circle cx="249.0" cy="144.8" r="0.86" fill="#333" opacity="0.34"/><circle cx="269.7" cy="78.1" r="1.04" fill="#333" opacity="0.46"/><circle cx="224.8" cy="135.5" r="1.02" fill="#333" opacity="0.35"/><circle cx="262.6" cy="132.0" r="1.09" fill="#333" opacity="0.48"/><circle cx="281.5" cy="81.3" r="0.70" fill="#333" opacity="0.34"/><circle cx="250.1" cy="103.0" r="0.80" fill="#333" opacity="0.50"/><circle cx="249.5" cy="139.7" r="0.68" fill="#333" opacity="0.27"/><circle cx="241.4" cy="113.9" r="0.66" fill="#333" opacity="0.53"/><circle cx="257.1" cy="99.9" r="0.93" fill="#333" opacity="0.41"/><circle cx="266.5" cy="87.8" r="0.62" fill="#333" opacity="0.70"/><circle cx="251.7" cy="97.1" r="0.91" fill="#333" opacity="0.37"/><circle cx="266.7" cy="78.9" r="1.12" fill="#333" opacity="0.60"/><circle cx="261.2" cy="70.9" r="0.74" fill="#333" opacity="0.27"/><circle cx="250.6" cy="103.1" r="0.65" fill="#333" opacity="0.27"/><circle cx="286.6" cy="93.1" r="1.10" fill="#333" opacity="0.28"/><circle cx="257.5" cy="119.8" r="0.67" fill="#333" opacity="0.68"/><circle cx="265.5" cy="86.8" r="0.95" fill="#333" opacity="0.68"/><circle cx="246.7" cy="134.6" r="0.85" fill="#333" opacity="0.32"/><circle cx="242.7" cy="66.8" r="0.72" fill="#333" opacity="0.27"/><circle cx="266.2" cy="84.8" r="1.10" fill="#333" opacity="0.66"/><circle cx="245.4" cy="123.1" r="1.03" fill="#333" opacity="0.57"/><circle cx="276.2" cy="101.7" r="0.63" fill="#333" opacity="0.32"/><circle cx="277.3" cy="112.6" r="0.97" fill="#333" opacity="0.38"/><circle cx="282.8" cy="69.9" r="0.66" fill="#333" opacity="0.40"/><circle cx="253.9" cy="98.2" r="0.86" fill="#333" opacity="0.33"/><circle cx="252.8" cy="99.6" r="0.97" fill="#333" opacity="0.26"/><circle cx="265.1" cy="100.3" r="0.62" fill="#333" opacity="0.67"/><circle cx="233.3" cy="101.9" r="1.08" fill="#333" opacity="0.65"/><circle cx="242.5" cy="114.5" r="0.65" fill="#333" opacity="0.67"/><circle cx="258.8" cy="124.8" r="0.85" fill="#333" opacity="0.40"/><circle cx="260.7" cy="117.6" r="0.95" fill="#333" opacity="0.31"/><circle cx="254.4" cy="101.0" r="0.99" fill="#333" opacity="0.50"/><circle cx="229.5" cy="124.8" r="0.75" fill="#333" opacity="0.44"/><circle cx="247.0" cy="109.1" r="1.06" fill="#333" opacity="0.40"/><circle cx="242.5" cy="110.8" r="0.77" fill="#333" opacity="0.66"/><circle cx="219.1" cy="137.5" r="0.97" fill="#333" opacity="0.35"/><circle cx="256.0" cy="122.6" r="0.74" fill="#333" opacity="0.34"/><circle cx="273.9" cy="112.2" r="1.15" fill="#333" opacity="0.67"/><circle cx="245.8" cy="115.6" r="1.09" fill="#333" opacity="0.28"/><circle cx="266.5" cy="101.3" r="1.14" fill="#333" opacity="0.26"/><circle cx="261.5" cy="112.3" r="0.68" fill="#333" opacity="0.25"/><circle cx="259.8" cy="120.2" r="0.70" fill="#333" opacity="0.45"/><circle cx="254.0" cy="117.1" r="0.91" fill="#333" opacity="0.31"/><circle cx="236.0" cy="112.4" r="0.99" fill="#333" opacity="0.34"/><circle cx="251.7" cy="109.3" r="0.93" fill="#333" opacity="0.47"/><circle cx="253.5" cy="95.6" r="0.94" fill="#333" opacity="0.57"/><circle cx="262.5" cy="118.3" r="0.71" fill="#333" opacity="0.28"/><circle cx="268.0" cy="102.4" r="1.00" fill="#333" opacity="0.27"/><circle cx="261.1" cy="112.7" r="1.06" fill="#333" opacity="0.64"/><circle cx="260.0" cy="96.5" r="1.10" fill="#333" opacity="0.46"/><circle cx="256.3" cy="116.7" r="0.70" fill="#333" opacity="0.62"/><circle cx="259.0" cy="89.2" r="0.80" fill="#333" opacity="0.52"/><circle cx="243.2" cy="130.5" r="0.85" fill="#333" opacity="0.48"/><circle cx="234.9" cy="124.6" r="1.05" fill="#333" opacity="0.64"/><circle cx="254.0" cy="78.3" r="0.81" fill="#333" opacity="0.59"/><circle cx="239.3" cy="115.0" r="0.88" fill="#333" opacity="0.49"/><circle cx="263.7" cy="93.5" r="1.13" fill="#333" opacity="0.35"/><circle cx="256.9" cy="98.9" r="0.74" fill="#333" opacity="0.62"/></g>
<g filter="url(#bl05)"><circle cx="224.5" cy="69.7" r="0.86" fill="#444" opacity="0.54"/><circle cx="223.5" cy="136.1" r="0.81" fill="#444" opacity="0.69"/><circle cx="281.0" cy="70.6" r="0.94" fill="#444" opacity="0.77"/><circle cx="225.8" cy="73.2" r="0.77" fill="#444" opacity="0.68"/><circle cx="245.5" cy="73.1" r="0.73" fill="#444" opacity="0.51"/><circle cx="271.7" cy="170.7" r="0.62" fill="#444" opacity="0.71"/><circle cx="284.7" cy="78.7" r="0.92" fill="#444" opacity="0.87"/><circle cx="254.7" cy="112.5" r="0.93" fill="#444" opacity="0.69"/><circle cx="255.2" cy="181.3" r="0.90" fill="#444" opacity="0.60"/><circle cx="242.2" cy="101.2" r="0.75" fill="#444" opacity="0.89"/><circle cx="289.6" cy="177.5" r="0.92" fill="#444" opacity="0.83"/><circle cx="226.5" cy="125.3" r="0.98" fill="#444" opacity="0.87"/><circle cx="242.9" cy="112.7" r="0.83" fill="#444" opacity="0.61"/><circle cx="266.6" cy="66.1" r="0.74" fill="#444" opacity="0.68"/><circle cx="223.7" cy="75.4" r="0.99" fill="#444" opacity="0.80"/><circle cx="300.7" cy="140.6" r="0.91" fill="#444" opacity="0.85"/><circle cx="296.3" cy="61.5" r="0.84" fill="#444" opacity="0.57"/><circle cx="279.0" cy="93.1" r="0.79" fill="#444" opacity="0.87"/><circle cx="274.2" cy="90.1" r="0.78" fill="#444" opacity="0.65"/><circle cx="301.9" cy="95.0" r="0.69" fill="#444" opacity="0.74"/><circle cx="232.1" cy="135.4" r="0.98" fill="#444" opacity="0.68"/><circle cx="244.5" cy="118.6" r="0.79" fill="#444" opacity="0.52"/><circle cx="232.4" cy="74.3" r="0.68" fill="#444" opacity="0.63"/><circle cx="246.2" cy="89.1" r="0.59" fill="#444" opacity="0.70"/><circle cx="292.5" cy="137.5" r="0.81" fill="#444" opacity="0.74"/><circle cx="238.9" cy="150.8" r="0.76" fill="#444" opacity="0.70"/><circle cx="273.5" cy="118.9" r="0.69" fill="#444" opacity="0.56"/><circle cx="240.6" cy="124.6" r="0.72" fill="#444" opacity="0.71"/><circle cx="223.0" cy="103.6" r="0.94" fill="#444" opacity="0.56"/><circle cx="268.8" cy="121.9" r="0.68" fill="#444" opacity="0.89"/><circle cx="246.8" cy="158.9" r="0.62" fill="#444" opacity="0.48"/><circle cx="295.2" cy="115.1" r="0.58" fill="#444" opacity="0.62"/><circle cx="259.0" cy="154.1" r="0.60" fill="#444" opacity="0.55"/><circle cx="302.6" cy="154.5" r="0.62" fill="#444" opacity="0.60"/><circle cx="251.6" cy="146.1" r="0.83" fill="#444" opacity="0.83"/><circle cx="291.0" cy="125.3" r="0.88" fill="#444" opacity="0.78"/><circle cx="285.8" cy="119.7" r="0.90" fill="#444" opacity="0.77"/><circle cx="298.8" cy="73.8" r="0.94" fill="#444" opacity="0.45"/><circle cx="286.3" cy="134.3" r="0.77" fill="#444" opacity="0.88"/><circle cx="270.0" cy="112.2" r="0.90" fill="#444" opacity="0.84"/><circle cx="273.0" cy="107.1" r="0.75" fill="#444" opacity="0.66"/><circle cx="282.7" cy="95.7" r="0.73" fill="#444" opacity="0.70"/><circle cx="254.3" cy="99.5" r="0.90" fill="#444" opacity="0.83"/><circle cx="264.0" cy="115.6" r="0.63" fill="#444" opacity="0.59"/><circle cx="234.2" cy="133.0" r="0.81" fill="#444" opacity="0.49"/><circle cx="299.3" cy="99.8" r="0.93" fill="#444" opacity="0.83"/><circle cx="302.5" cy="84.0" r="0.74" fill="#444" opacity="0.86"/><circle cx="222.9" cy="63.3" r="0.80" fill="#444" opacity="0.67"/><circle cx="299.3" cy="159.1" r="0.79" fill="#444" opacity="0.90"/><circle cx="265.5" cy="125.3" r="0.86" fill="#444" opacity="0.63"/><circle cx="252.0" cy="135.5" r="0.71" fill="#444" opacity="0.88"/><circle cx="278.8" cy="126.3" r="0.59" fill="#444" opacity="0.62"/><circle cx="255.7" cy="131.1" r="0.81" fill="#444" opacity="0.85"/><circle cx="303.0" cy="121.2" r="0.75" fill="#444" opacity="0.73"/><circle cx="305.7" cy="102.3" r="0.79" fill="#444" opacity="0.82"/><circle cx="236.3" cy="99.0" r="0.99" fill="#444" opacity="0.82"/><circle cx="265.1" cy="71.6" r="0.95" fill="#444" opacity="0.76"/><circle cx="290.9" cy="187.7" r="0.95" fill="#444" opacity="0.64"/><circle cx="235.1" cy="95.3" r="0.78" fill="#444" opacity="0.68"/><circle cx="237.8" cy="81.1" r="0.83" fill="#444" opacity="0.72"/><circle cx="251.7" cy="188.2" r="0.84" fill="#444" opacity="0.47"/><circle cx="256.6" cy="161.0" r="0.69" fill="#444" opacity="0.76"/><circle cx="222.3" cy="97.2" r="0.93" fill="#444" opacity="0.71"/><circle cx="278.1" cy="83.0" r="0.77" fill="#444" opacity="0.70"/><circle cx="244.3" cy="142.4" r="0.79" fill="#444" opacity="0.90"/><circle cx="270.3" cy="111.3" r="0.60" fill="#444" opacity="0.52"/><circle cx="285.8" cy="71.1" r="0.60" fill="#444" opacity="0.53"/><circle cx="265.9" cy="165.7" r="0.83" fill="#444" opacity="0.81"/><circle cx="227.2" cy="58.6" r="0.90" fill="#444" opacity="0.60"/><circle cx="282.1" cy="103.7" r="0.63" fill="#444" opacity="0.57"/></g>
<g filter="url(#bl1)"><path d="M205.0,52.0 L210.0,56.0 L212.5,69.9 L215.5,77.0 L218.4,84.8 L220.7,99.7 L221.7,129.4 L222.1,200.0 L205.0,200.0 Z" fill="#fbfbfb"/>
<path d="M210,56 L212.5,69.9 L215.5,77 L218.4,84.8 L220.7,99.7 L221.7,129.4 L222.1,200" fill="none" stroke="#b8b8b8" stroke-width="1.6"/></g>
</g>
<line x1="266.00" y1="186.40" x2="306.30" y2="186.40" stroke="#222" stroke-width="1.7"/>
<g clip-path="url(#c2)">
<rect x="101.90" y="194.00" width="103.30" height="133.30" fill="#dadada" stroke="none" stroke-width="0"/>
<rect x="101.9" y="194" width="103.29999999999998" height="133.3" filter="url(#mottd)" opacity="0.5"/>
<rect x="101.9" y="194" width="103.29999999999998" height="133.3" filter="url(#mott)"/>
<g filter="url(#bl1)"><circle cx="112.2" cy="314.5" r="2.0" fill="#f4f4f4" opacity="0.64"/><circle cx="148.4" cy="245.4" r="1.3" fill="#f4f4f4" opacity="0.86"/><circle cx="162.1" cy="321.9" r="1.8" fill="#f4f4f4" opacity="0.75"/><circle cx="127.7" cy="199.9" r="2.5" fill="#f4f4f4" opacity="0.84"/><circle cx="134.4" cy="313.8" r="2.3" fill="#f4f4f4" opacity="0.62"/><circle cx="164.1" cy="322.0" r="1.9" fill="#f4f4f4" opacity="0.88"/><circle cx="127.0" cy="246.0" r="2.2" fill="#f4f4f4" opacity="0.59"/><circle cx="133.8" cy="310.7" r="1.9" fill="#f4f4f4" opacity="0.82"/><circle cx="127.0" cy="217.1" r="1.7" fill="#f4f4f4" opacity="0.57"/><circle cx="202.3" cy="232.8" r="2.0" fill="#f4f4f4" opacity="0.55"/><circle cx="157.0" cy="245.4" r="1.8" fill="#f4f4f4" opacity="0.53"/><circle cx="114.6" cy="304.1" r="1.7" fill="#f4f4f4" opacity="0.60"/><circle cx="121.7" cy="231.8" r="1.5" fill="#f4f4f4" opacity="0.51"/><circle cx="170.5" cy="239.5" r="1.4" fill="#f4f4f4" opacity="0.78"/><circle cx="111.5" cy="229.9" r="2.4" fill="#f4f4f4" opacity="0.55"/><circle cx="147.7" cy="305.5" r="2.3" fill="#f4f4f4" opacity="0.56"/><circle cx="138.4" cy="290.3" r="1.7" fill="#f4f4f4" opacity="0.88"/><circle cx="123.4" cy="320.8" r="1.9" fill="#f4f4f4" opacity="0.59"/><circle cx="148.7" cy="211.5" r="2.2" fill="#f4f4f4" opacity="0.60"/><circle cx="194.8" cy="272.3" r="1.7" fill="#f4f4f4" opacity="0.60"/><circle cx="164.7" cy="222.3" r="2.4" fill="#f4f4f4" opacity="0.55"/><circle cx="154.9" cy="266.3" r="1.6" fill="#f4f4f4" opacity="0.81"/><circle cx="141.7" cy="281.6" r="2.0" fill="#f4f4f4" opacity="0.62"/><circle cx="142.2" cy="205.5" r="1.4" fill="#f4f4f4" opacity="0.84"/><circle cx="135.1" cy="282.3" r="1.4" fill="#f4f4f4" opacity="0.72"/><circle cx="139.2" cy="260.7" r="1.6" fill="#f4f4f4" opacity="0.53"/><circle cx="134.1" cy="224.2" r="1.4" fill="#f4f4f4" opacity="0.79"/><circle cx="131.1" cy="247.8" r="2.5" fill="#f4f4f4" opacity="0.81"/><circle cx="193.1" cy="308.8" r="1.4" fill="#f4f4f4" opacity="0.61"/><circle cx="105.0" cy="284.6" r="2.1" fill="#f4f4f4" opacity="0.64"/><circle cx="144.5" cy="281.9" r="2.2" fill="#f4f4f4" opacity="0.60"/><circle cx="189.4" cy="240.9" r="2.1" fill="#f4f4f4" opacity="0.57"/><circle cx="113.8" cy="315.7" r="2.2" fill="#f4f4f4" opacity="0.79"/><circle cx="106.1" cy="199.3" r="1.4" fill="#f4f4f4" opacity="0.58"/><circle cx="133.2" cy="244.8" r="1.3" fill="#f4f4f4" opacity="0.62"/></g>
<g filter="url(#bl05)"><circle cx="149.0" cy="207.5" r="0.93" fill="#444" opacity="0.71"/><circle cx="154.6" cy="212.3" r="0.75" fill="#444" opacity="0.76"/><circle cx="128.1" cy="196.1" r="0.93" fill="#444" opacity="0.80"/><circle cx="123.6" cy="198.7" r="0.93" fill="#444" opacity="0.72"/><circle cx="106.4" cy="211.6" r="0.60" fill="#444" opacity="0.81"/><circle cx="118.1" cy="254.5" r="0.89" fill="#444" opacity="0.49"/><circle cx="153.0" cy="221.2" r="0.89" fill="#444" opacity="0.82"/><circle cx="123.2" cy="201.8" r="0.98" fill="#444" opacity="0.64"/><circle cx="170.0" cy="240.3" r="0.88" fill="#444" opacity="0.82"/><circle cx="148.2" cy="225.0" r="0.57" fill="#444" opacity="0.76"/><circle cx="133.8" cy="228.8" r="0.97" fill="#444" opacity="0.51"/><circle cx="157.9" cy="198.8" r="0.87" fill="#444" opacity="0.81"/><circle cx="121.8" cy="231.0" r="0.99" fill="#444" opacity="0.74"/><circle cx="142.2" cy="212.0" r="0.58" fill="#444" opacity="0.61"/><circle cx="132.6" cy="208.9" r="0.69" fill="#444" opacity="0.51"/><circle cx="153.9" cy="238.9" r="0.66" fill="#444" opacity="0.56"/><circle cx="140.1" cy="224.5" r="0.97" fill="#444" opacity="0.61"/><circle cx="124.6" cy="252.6" r="0.61" fill="#444" opacity="0.70"/><circle cx="127.0" cy="248.2" r="0.80" fill="#444" opacity="0.79"/><circle cx="115.2" cy="238.7" r="0.82" fill="#444" opacity="0.66"/><circle cx="158.2" cy="249.2" r="0.60" fill="#444" opacity="0.58"/><circle cx="129.0" cy="209.2" r="0.58" fill="#444" opacity="0.58"/><circle cx="117.2" cy="240.9" r="0.75" fill="#444" opacity="0.50"/><circle cx="126.4" cy="226.0" r="0.71" fill="#444" opacity="0.53"/><circle cx="108.2" cy="196.7" r="1.00" fill="#444" opacity="0.79"/><circle cx="109.0" cy="241.9" r="0.99" fill="#444" opacity="0.70"/></g>
<g filter="url(#bl05)"><circle cx="111.5" cy="257.5" r="0.80" fill="#333" opacity="0.48"/><circle cx="137.6" cy="234.4" r="1.01" fill="#333" opacity="0.66"/><circle cx="142.7" cy="278.9" r="0.89" fill="#333" opacity="0.50"/><circle cx="119.8" cy="240.7" r="0.61" fill="#333" opacity="0.71"/><circle cx="155.4" cy="248.2" r="0.68" fill="#333" opacity="0.66"/><circle cx="115.1" cy="271.7" r="0.97" fill="#333" opacity="0.70"/><circle cx="124.6" cy="242.9" r="0.97" fill="#333" opacity="0.53"/><circle cx="127.1" cy="260.5" r="0.77" fill="#333" opacity="0.73"/><circle cx="139.0" cy="264.2" r="0.97" fill="#333" opacity="0.68"/><circle cx="134.7" cy="258.0" r="0.67" fill="#333" opacity="0.52"/><circle cx="139.9" cy="237.9" r="0.91" fill="#333" opacity="0.47"/><circle cx="131.6" cy="280.6" r="0.64" fill="#333" opacity="0.42"/><circle cx="131.4" cy="243.2" r="0.93" fill="#333" opacity="0.40"/><circle cx="155.4" cy="275.1" r="0.95" fill="#333" opacity="0.57"/><circle cx="122.0" cy="265.8" r="0.83" fill="#333" opacity="0.57"/><circle cx="125.3" cy="255.1" r="0.90" fill="#333" opacity="0.73"/><circle cx="122.7" cy="255.3" r="0.85" fill="#333" opacity="0.54"/><circle cx="124.4" cy="256.1" r="1.04" fill="#333" opacity="0.76"/><circle cx="162.7" cy="263.8" r="0.97" fill="#333" opacity="0.42"/><circle cx="145.6" cy="263.2" r="0.73" fill="#333" opacity="0.63"/><circle cx="162.2" cy="257.1" r="0.89" fill="#333" opacity="0.52"/><circle cx="125.6" cy="276.5" r="0.61" fill="#333" opacity="0.48"/><circle cx="145.7" cy="255.5" r="0.64" fill="#333" opacity="0.66"/><circle cx="127.3" cy="261.9" r="0.79" fill="#333" opacity="0.61"/><circle cx="138.9" cy="253.0" r="0.65" fill="#333" opacity="0.47"/><circle cx="158.4" cy="260.3" r="0.65" fill="#333" opacity="0.74"/><circle cx="120.2" cy="238.6" r="0.84" fill="#333" opacity="0.50"/><circle cx="134.4" cy="260.6" r="0.70" fill="#333" opacity="0.63"/><circle cx="111.8" cy="258.6" r="0.86" fill="#333" opacity="0.43"/><circle cx="129.5" cy="237.5" r="0.80" fill="#333" opacity="0.75"/><circle cx="138.0" cy="268.3" r="0.94" fill="#333" opacity="0.45"/><circle cx="128.5" cy="242.2" r="1.03" fill="#333" opacity="0.63"/><circle cx="151.5" cy="240.6" r="0.95" fill="#333" opacity="0.42"/><circle cx="119.2" cy="251.9" r="0.61" fill="#333" opacity="0.64"/><circle cx="117.8" cy="248.4" r="0.92" fill="#333" opacity="0.57"/><circle cx="158.3" cy="263.8" r="0.99" fill="#333" opacity="0.63"/><circle cx="115.1" cy="269.8" r="0.75" fill="#333" opacity="0.71"/><circle cx="145.8" cy="273.6" r="0.66" fill="#333" opacity="0.55"/><circle cx="141.2" cy="238.8" r="0.85" fill="#333" opacity="0.72"/><circle cx="145.5" cy="246.2" r="0.69" fill="#333" opacity="0.58"/><circle cx="155.3" cy="261.9" r="0.65" fill="#333" opacity="0.41"/><circle cx="111.6" cy="272.4" r="0.68" fill="#333" opacity="0.62"/><circle cx="122.4" cy="267.0" r="0.77" fill="#333" opacity="0.46"/><circle cx="157.5" cy="259.8" r="0.91" fill="#333" opacity="0.72"/><circle cx="125.5" cy="241.2" r="0.83" fill="#333" opacity="0.75"/><circle cx="115.9" cy="273.3" r="0.91" fill="#333" opacity="0.56"/><circle cx="133.5" cy="241.6" r="0.98" fill="#333" opacity="0.56"/><circle cx="157.4" cy="263.3" r="0.63" fill="#333" opacity="0.53"/><circle cx="118.0" cy="276.9" r="0.87" fill="#333" opacity="0.42"/><circle cx="115.2" cy="251.3" r="0.81" fill="#333" opacity="0.63"/><circle cx="128.3" cy="251.0" r="0.60" fill="#333" opacity="0.63"/><circle cx="132.6" cy="281.3" r="0.62" fill="#333" opacity="0.46"/><circle cx="145.3" cy="247.1" r="0.72" fill="#333" opacity="0.60"/><circle cx="120.7" cy="261.3" r="0.84" fill="#333" opacity="0.78"/><circle cx="138.6" cy="271.0" r="0.99" fill="#333" opacity="0.71"/><circle cx="143.0" cy="264.5" r="0.76" fill="#333" opacity="0.51"/><circle cx="152.7" cy="275.9" r="1.02" fill="#333" opacity="0.67"/><circle cx="123.2" cy="270.6" r="0.93" fill="#333" opacity="0.60"/><circle cx="143.1" cy="250.8" r="0.85" fill="#333" opacity="0.56"/><circle cx="108.6" cy="250.2" r="0.75" fill="#333" opacity="0.80"/></g>
<g filter="url(#bl05)"><circle cx="149.4" cy="264.8" r="0.71" fill="#333" opacity="0.49"/><circle cx="145.2" cy="259.3" r="0.60" fill="#333" opacity="0.75"/><circle cx="148.5" cy="266.7" r="0.86" fill="#333" opacity="0.52"/><circle cx="143.6" cy="263.4" r="0.93" fill="#333" opacity="0.62"/><circle cx="164.0" cy="264.2" r="1.01" fill="#333" opacity="0.63"/><circle cx="152.6" cy="279.7" r="0.76" fill="#333" opacity="0.71"/><circle cx="147.7" cy="276.8" r="0.63" fill="#333" opacity="0.59"/><circle cx="162.8" cy="262.6" r="0.72" fill="#333" opacity="0.41"/><circle cx="139.3" cy="262.4" r="0.92" fill="#333" opacity="0.49"/><circle cx="146.8" cy="260.8" r="0.87" fill="#333" opacity="0.75"/><circle cx="154.7" cy="260.7" r="0.93" fill="#333" opacity="0.79"/><circle cx="153.2" cy="257.9" r="0.96" fill="#333" opacity="0.75"/><circle cx="144.9" cy="259.3" r="0.68" fill="#333" opacity="0.61"/><circle cx="162.0" cy="271.4" r="1.02" fill="#333" opacity="0.48"/><circle cx="144.5" cy="274.0" r="0.89" fill="#333" opacity="0.56"/><circle cx="155.7" cy="264.1" r="0.63" fill="#333" opacity="0.57"/><circle cx="135.5" cy="271.0" r="0.75" fill="#333" opacity="0.60"/><circle cx="153.1" cy="262.2" r="0.81" fill="#333" opacity="0.41"/><circle cx="163.6" cy="269.5" r="1.04" fill="#333" opacity="0.42"/><circle cx="153.6" cy="273.4" r="0.75" fill="#333" opacity="0.44"/><circle cx="139.0" cy="259.4" r="0.95" fill="#333" opacity="0.44"/><circle cx="160.0" cy="266.2" r="0.84" fill="#333" opacity="0.64"/><circle cx="151.8" cy="271.8" r="0.87" fill="#333" opacity="0.53"/><circle cx="157.7" cy="262.2" r="0.92" fill="#333" opacity="0.71"/><circle cx="158.8" cy="263.4" r="0.95" fill="#333" opacity="0.79"/><circle cx="148.5" cy="262.7" r="0.84" fill="#333" opacity="0.78"/><circle cx="149.2" cy="271.7" r="0.95" fill="#333" opacity="0.54"/><circle cx="158.2" cy="258.2" r="0.61" fill="#333" opacity="0.45"/><circle cx="135.9" cy="268.0" r="0.85" fill="#333" opacity="0.47"/><circle cx="164.1" cy="264.8" r="0.67" fill="#333" opacity="0.47"/><circle cx="157.6" cy="278.1" r="0.67" fill="#333" opacity="0.41"/><circle cx="158.9" cy="261.8" r="1.04" fill="#333" opacity="0.60"/><circle cx="154.4" cy="264.3" r="0.96" fill="#333" opacity="0.58"/><circle cx="144.4" cy="277.7" r="0.65" fill="#333" opacity="0.69"/><circle cx="136.1" cy="271.5" r="0.78" fill="#333" opacity="0.75"/><circle cx="135.9" cy="269.5" r="0.78" fill="#333" opacity="0.77"/><circle cx="164.2" cy="271.1" r="0.70" fill="#333" opacity="0.50"/><circle cx="142.4" cy="266.4" r="0.70" fill="#333" opacity="0.48"/><circle cx="158.3" cy="271.4" r="0.73" fill="#333" opacity="0.80"/><circle cx="140.9" cy="269.7" r="0.67" fill="#333" opacity="0.75"/><circle cx="161.8" cy="262.4" r="0.94" fill="#333" opacity="0.73"/><circle cx="143.0" cy="264.0" r="0.82" fill="#333" opacity="0.76"/><circle cx="139.2" cy="272.4" r="0.87" fill="#333" opacity="0.58"/><circle cx="152.5" cy="277.2" r="0.69" fill="#333" opacity="0.75"/><circle cx="145.5" cy="274.7" r="0.99" fill="#333" opacity="0.47"/><circle cx="138.8" cy="273.7" r="0.64" fill="#333" opacity="0.47"/><circle cx="155.8" cy="258.2" r="0.75" fill="#333" opacity="0.77"/><circle cx="156.9" cy="277.2" r="1.04" fill="#333" opacity="0.41"/><circle cx="141.5" cy="275.0" r="0.91" fill="#333" opacity="0.42"/><circle cx="150.2" cy="261.6" r="0.79" fill="#333" opacity="0.44"/><circle cx="144.1" cy="277.1" r="0.65" fill="#333" opacity="0.59"/><circle cx="138.3" cy="266.3" r="0.68" fill="#333" opacity="0.67"/><circle cx="138.7" cy="273.7" r="0.83" fill="#333" opacity="0.44"/><circle cx="145.3" cy="267.9" r="1.01" fill="#333" opacity="0.54"/><circle cx="162.3" cy="273.6" r="0.72" fill="#333" opacity="0.47"/></g>
<path d="M100.0,286.0 L130.0,283.0 L165.0,282.0 L210.0,281.0 L210.0,330.0 L100.0,330.0 Z" fill="#e3e3e3" filter="url(#bl1)"/>
<g filter="url(#bl1)"><path d="M178.8,190.0 C178.7,190.9 178.9,192.8 178.4,195.3 C177.9,197.9 177.1,201.6 176.1,205.3 C175.1,209.0 173.6,212.9 172.3,217.5 C171.0,222.1 169.7,228.1 168.4,232.9 C167.1,237.8 165.8,242.3 164.6,246.6 C163.4,250.9 162.3,255.3 161.5,258.9 C160.7,262.5 160.0,265.6 160.0,268.1 C160.0,270.7 160.3,272.3 161.5,274.2 C162.7,276.1 164.5,278.3 166.9,279.6 C169.3,280.9 172.3,281.6 176.1,281.9 C179.9,282.1 184.2,281.1 189.9,281.1 C195.6,281.1 206.7,281.9 210.0,282.0 L210,190 Z" fill="#fbfbfb"/>
<path d="M178.8,190.0 C178.7,190.9 178.9,192.8 178.4,195.3 C177.9,197.9 177.1,201.6 176.1,205.3 C175.1,209.0 173.6,212.9 172.3,217.5 C171.0,222.1 169.7,228.1 168.4,232.9 C167.1,237.8 165.8,242.3 164.6,246.6 C163.4,250.9 162.3,255.3 161.5,258.9 C160.7,262.5 160.0,265.6 160.0,268.1 C160.0,270.7 160.3,272.3 161.5,274.2 C162.7,276.1 164.5,278.3 166.9,279.6 C169.3,280.9 172.3,281.6 176.1,281.9 C179.9,282.1 184.2,281.1 189.9,281.1 C195.6,281.1 206.7,281.9 210.0,282.0" fill="none" stroke="#7a7a7a" stroke-width="1.2"/>
<path d="M100.0,288.5 C100.5,288.6 100.6,288.2 103.3,288.8 C106.0,289.4 112.1,290.8 116.3,291.9 C120.5,293.0 124.5,294.3 128.6,295.7 C132.7,297.1 137.1,298.8 140.9,300.3 C144.7,301.8 148.0,303.1 151.6,304.9 C155.2,306.7 158.7,309.5 162.3,311.0 C165.9,312.5 168.9,313.1 173.0,314.1 C177.1,315.1 180.6,316.4 186.8,317.2 C193.0,318.0 206.1,318.7 210.0,319.0 L210,330 L100,330 Z" fill="#fbfbfb"/></g>
</g>
<g clip-path="url(#c3)">
<rect x="209.00" y="194.00" width="100.70" height="132.80" fill="#d2d2d2" stroke="none" stroke-width="0"/>
<rect x="209" y="194" width="100.69999999999999" height="132.8" filter="url(#mottd)" opacity="0.5"/>
<rect x="209" y="194" width="100.69999999999999" height="132.8" filter="url(#mott)"/>
<g filter="url(#bl1)"><circle cx="235.7" cy="203.2" r="1.3" fill="#f4f4f4" opacity="0.70"/><circle cx="250.1" cy="267.9" r="1.7" fill="#f4f4f4" opacity="0.50"/><circle cx="278.3" cy="280.7" r="2.0" fill="#f4f4f4" opacity="0.72"/><circle cx="278.5" cy="324.5" r="2.4" fill="#f4f4f4" opacity="0.79"/><circle cx="249.2" cy="236.3" r="1.8" fill="#f4f4f4" opacity="0.89"/><circle cx="248.0" cy="245.2" r="1.8" fill="#f4f4f4" opacity="0.56"/><circle cx="309.5" cy="194.7" r="2.1" fill="#f4f4f4" opacity="0.87"/><circle cx="234.6" cy="275.1" r="1.7" fill="#f4f4f4" opacity="0.60"/><circle cx="229.0" cy="209.4" r="2.4" fill="#f4f4f4" opacity="0.81"/><circle cx="300.5" cy="200.6" r="2.2" fill="#f4f4f4" opacity="0.63"/><circle cx="274.1" cy="266.9" r="1.6" fill="#f4f4f4" opacity="0.89"/><circle cx="209.1" cy="293.1" r="2.4" fill="#f4f4f4" opacity="0.70"/><circle cx="268.6" cy="326.1" r="1.5" fill="#f4f4f4" opacity="0.75"/><circle cx="283.9" cy="244.3" r="2.2" fill="#f4f4f4" opacity="0.66"/><circle cx="262.0" cy="275.4" r="2.1" fill="#f4f4f4" opacity="0.63"/><circle cx="272.3" cy="266.1" r="1.5" fill="#f4f4f4" opacity="0.75"/><circle cx="235.7" cy="314.7" r="1.9" fill="#f4f4f4" opacity="0.79"/><circle cx="261.6" cy="257.3" r="1.5" fill="#f4f4f4" opacity="0.56"/><circle cx="302.4" cy="264.2" r="1.9" fill="#f4f4f4" opacity="0.71"/><circle cx="290.9" cy="225.7" r="1.4" fill="#f4f4f4" opacity="0.83"/><circle cx="255.4" cy="279.1" r="2.4" fill="#f4f4f4" opacity="0.86"/><circle cx="296.4" cy="199.7" r="1.7" fill="#f4f4f4" opacity="0.83"/><circle cx="291.3" cy="210.3" r="1.4" fill="#f4f4f4" opacity="0.60"/><circle cx="219.4" cy="241.4" r="2.3" fill="#f4f4f4" opacity="0.71"/><circle cx="254.6" cy="205.7" r="1.8" fill="#f4f4f4" opacity="0.90"/><circle cx="279.0" cy="253.7" r="1.9" fill="#f4f4f4" opacity="0.82"/><circle cx="285.4" cy="213.9" r="2.2" fill="#f4f4f4" opacity="0.65"/><circle cx="261.4" cy="225.6" r="1.7" fill="#f4f4f4" opacity="0.64"/><circle cx="247.4" cy="196.4" r="1.5" fill="#f4f4f4" opacity="0.73"/><circle cx="214.8" cy="217.7" r="2.2" fill="#f4f4f4" opacity="0.61"/><circle cx="241.6" cy="226.1" r="2.4" fill="#f4f4f4" opacity="0.54"/><circle cx="273.1" cy="308.1" r="1.5" fill="#f4f4f4" opacity="0.67"/><circle cx="288.8" cy="276.1" r="1.7" fill="#f4f4f4" opacity="0.52"/><circle cx="253.6" cy="242.8" r="2.2" fill="#f4f4f4" opacity="0.62"/><circle cx="250.1" cy="280.1" r="2.3" fill="#f4f4f4" opacity="0.64"/></g>
<g filter="url(#bl05)"><circle cx="265.0" cy="245.8" r="0.97" fill="#444" opacity="0.54"/><circle cx="306.0" cy="257.2" r="0.72" fill="#444" opacity="0.75"/><circle cx="261.1" cy="202.1" r="0.89" fill="#444" opacity="0.62"/><circle cx="274.8" cy="238.7" r="0.96" fill="#444" opacity="0.79"/><circle cx="239.8" cy="247.0" r="0.76" fill="#444" opacity="0.66"/><circle cx="296.8" cy="231.7" r="0.76" fill="#444" opacity="0.85"/><circle cx="268.8" cy="238.2" r="0.78" fill="#444" opacity="0.82"/><circle cx="284.9" cy="259.7" r="0.73" fill="#444" opacity="0.47"/><circle cx="285.6" cy="243.6" r="0.90" fill="#444" opacity="0.80"/><circle cx="246.3" cy="215.0" r="0.58" fill="#444" opacity="0.82"/><circle cx="245.1" cy="203.6" r="0.89" fill="#444" opacity="0.70"/><circle cx="241.9" cy="254.6" r="0.87" fill="#444" opacity="0.67"/><circle cx="241.8" cy="255.4" r="0.74" fill="#444" opacity="0.71"/><circle cx="307.9" cy="266.2" r="0.94" fill="#444" opacity="0.52"/><circle cx="261.4" cy="240.6" r="0.55" fill="#444" opacity="0.89"/><circle cx="257.2" cy="218.6" r="0.69" fill="#444" opacity="0.56"/><circle cx="298.1" cy="243.8" r="0.78" fill="#444" opacity="0.64"/><circle cx="241.6" cy="222.2" r="0.94" fill="#444" opacity="0.81"/><circle cx="298.0" cy="218.1" r="0.64" fill="#444" opacity="0.47"/><circle cx="275.6" cy="228.1" r="0.76" fill="#444" opacity="0.67"/><circle cx="278.9" cy="227.5" r="0.91" fill="#444" opacity="0.54"/><circle cx="302.4" cy="243.8" r="0.57" fill="#444" opacity="0.59"/></g>
<path d="M255,290 Q280,276 312,266 L312,280 Q285,285 258,296 Z" fill="#a8a8a8" opacity="0.5" filter="url(#bl1)"/>
<g filter="url(#bl1)"><path d="M228.0,190.0 C228.1,190.9 227.9,192.3 228.3,195.3 C228.7,198.3 229.6,203.4 230.6,208.0 C231.6,212.6 232.9,218.1 234.3,223.1 C235.7,228.1 237.4,233.3 238.8,238.1 C240.2,242.8 241.5,247.3 242.6,251.6 C243.7,255.9 245.2,260.4 245.6,263.7 C246.0,267.0 245.8,268.8 244.8,271.2 C243.8,273.6 242.0,276.0 239.6,278.0 C237.2,280.0 233.9,281.7 230.6,283.2 C227.3,284.7 224.3,286.0 220.0,287.0 C215.7,288.0 207.5,288.7 205.0,289.0 L205,190 Z" fill="#fbfbfb"/>
<path d="M228.0,190.0 C228.1,190.9 227.9,192.3 228.3,195.3 C228.7,198.3 229.6,203.4 230.6,208.0 C231.6,212.6 232.9,218.1 234.3,223.1 C235.7,228.1 237.4,233.3 238.8,238.1 C240.2,242.8 241.5,247.3 242.6,251.6 C243.7,255.9 245.2,260.4 245.6,263.7 C246.0,267.0 245.8,268.8 244.8,271.2 C243.8,273.6 242.0,276.0 239.6,278.0 C237.2,280.0 233.9,281.7 230.6,283.2 C227.3,284.7 224.3,286.0 220.0,287.0 C215.7,288.0 207.5,288.7 205.0,289.0" fill="none" stroke="#444" stroke-width="1.4"/>
<path d="M205.0,309.5 C205.9,309.4 207.8,309.4 210.3,308.8 C212.8,308.2 216.6,307.1 220.0,305.8 C223.4,304.6 226.8,302.8 230.6,301.3 C234.4,299.8 238.8,298.3 242.6,296.8 C246.3,295.3 249.3,294.0 253.1,292.2 C256.9,290.4 261.6,287.9 265.1,286.2 C268.6,284.4 270.7,282.9 274.2,281.7 C277.7,280.4 282.2,280.0 286.2,278.7 C290.2,277.4 293.9,275.4 298.2,274.0 C302.5,272.6 309.7,270.7 312.0,270.0 L312,330 L205,330 Z" fill="#fbfbfb"/></g>
</g>
<line x1="262.90" y1="320.50" x2="302.40" y2="320.50" stroke="#222" stroke-width="1.7"/>
<rect x="101.30" y="55.30" width="102.80" height="134.90" fill="none" stroke="#4a4a4a" stroke-width="1.6"/>
<rect x="208.50" y="55.30" width="101.20" height="136.00" fill="none" stroke="#4a4a4a" stroke-width="1.6"/>
<rect x="101.90" y="194.00" width="103.30" height="133.30" fill="none" stroke="#4a4a4a" stroke-width="1.6"/>
<rect x="209.00" y="194.00" width="100.70" height="132.80" fill="none" stroke="#4a4a4a" stroke-width="1.6"/>
<text transform="translate(105.63,188.00) scale(1.060,1)" font-size="16.2" fill="#151515" stroke="#151515" stroke-width="0.35" xml:space="preserve">PVN</text>
<text transform="translate(111.51,323.00) scale(1.060,1)" font-size="16.2" fill="#151515" stroke="#151515" stroke-width="0.35" xml:space="preserve">Arc</text>
<path d="M430.7,80.0 C432.3,79.3 430.7,77.7 431.9,76.5 C433.1,75.3 435.4,74.2 437.7,73.0 C440.0,71.8 442.6,70.7 445.9,69.5 C449.2,68.3 453.7,67.0 457.6,66.0 C461.5,65.0 464.6,64.3 469.2,63.7 C473.8,63.1 479.9,62.6 485.0,62.5 C490.1,62.4 496.0,63.0 499.8,63.2 C503.6,63.4 506.2,63.4 507.9,63.8 C509.5,64.2 509.8,64.9 509.7,65.6 C509.6,66.3 508.3,67.3 507.3,68.1 C506.3,68.9 504.4,69.9 503.5,70.6 C502.6,71.3 501.3,72.4 501.7,72.5 C502.1,72.6 504.4,71.7 506.0,71.2 C507.6,70.7 509.6,70.2 511.0,69.5 C512.4,68.8 512.9,67.8 514.1,66.9 C515.3,66.1 516.6,65.0 518.4,64.4 C520.1,63.8 522.3,63.5 524.6,63.5 C526.9,63.5 529.6,64.1 532.1,64.4 C534.6,64.8 537.4,65.0 539.5,65.6 C541.6,66.2 543.2,67.0 544.5,68.1 C545.8,69.1 546.4,70.5 547.0,71.9 C547.6,73.4 547.8,75.2 548.2,76.8 C548.6,78.4 549.5,80.3 549.5,81.8 C549.5,83.2 548.7,84.6 548.2,85.5 C547.7,86.4 545.5,86.9 546.3,87.4 C547.1,87.9 551.9,87.5 553.2,88.6 C554.6,89.7 554.2,91.4 554.4,94.2 C554.6,97.0 555.4,103.8 554.6,105.4 C553.8,107.1 551.2,104.7 549.5,104.1 C547.8,103.5 546.2,102.5 544.5,101.7 C542.8,100.9 541.1,99.6 539.5,99.4 C537.9,99.2 537.1,99.6 534.6,100.4 C532.1,101.2 528.3,102.9 524.6,104.1 C520.9,105.3 516.3,106.9 512.2,107.8 C508.1,108.7 502.5,109.9 499.8,109.7 C497.1,109.5 496.9,107.8 496.1,106.6 C495.3,105.4 495.6,103.9 494.9,102.6 C494.2,101.2 492.3,98.5 492.0,98.5 C491.7,98.5 493.2,101.2 493.0,102.5 C492.8,103.8 492.0,105.5 491.0,106.5 C490.0,107.5 488.4,108.1 487.0,108.6 C485.6,109.1 484.4,109.0 482.4,109.3 C480.4,109.6 477.6,110.1 475.0,110.2 C472.4,110.3 469.2,110.0 466.9,109.8 C464.6,109.6 462.9,109.5 461.1,109.2 C459.4,108.9 458.0,108.6 456.4,108.1 C454.8,107.6 453.4,106.7 451.7,106.3 C449.9,105.9 447.8,106.0 445.9,105.9 C443.9,105.8 441.8,105.9 440.0,105.7 C438.2,105.5 436.8,105.2 435.4,104.6 C434.0,104.0 433.6,103.2 431.9,102.2 C430.1,101.2 427.2,99.9 424.9,98.7 C422.5,97.5 419.9,96.6 417.8,95.2 C415.8,93.8 413.7,92.0 412.6,90.5 C411.5,89.0 411.1,87.2 411.4,85.9 C411.7,84.6 412.4,83.3 414.3,82.4 C416.2,81.5 419.8,81.0 422.5,80.6 C425.2,80.2 429.1,80.7 430.7,80.0 Z" fill="none" stroke="#222" stroke-width="1.15" stroke-linejoin="round"/>
<path d="M430.7,80.0 C431.1,80.6 432.0,82.0 433.0,83.5 C434.0,85.0 435.2,87.2 436.5,89.0 C437.8,90.8 439.9,93.2 440.6,94.0" fill="none" stroke="#222" stroke-width="1.0" stroke-linejoin="round"/>
<path d="M454.0,89.4 C455.2,88.4 458.4,85.2 461.1,83.5 C463.8,81.8 467.5,80.6 470.4,79.4 C473.3,78.2 475.8,77.2 478.6,76.5 C481.4,75.8 484.1,75.4 487.0,75.2 C489.9,75.0 494.3,75.3 496.0,75.6 C497.7,75.9 497.5,76.5 497.0,77.0 C496.5,77.5 493.7,78.4 493.0,78.7" fill="none" stroke="#111" stroke-width="2.6" stroke-linejoin="round"/>
<circle cx="455" cy="88.6" r="2.3" fill="#111"/>
<path d="M465.0,83.0 C466.7,82.4 471.3,80.1 475.0,79.2 C478.7,78.3 484.6,77.7 487.4,77.6 C490.2,77.5 491.2,78.3 492.0,78.5" fill="none" stroke="#222" stroke-width="0.9" stroke-linejoin="round"/>
<path d="M464.6,85.3 C465.3,85.6 468.2,86.3 468.6,87.0 C469.0,87.7 467.6,89.7 466.9,89.4 C466.2,89.1 465.0,86.0 464.6,85.3" fill="none" stroke="#222" stroke-width="0.9" stroke-linejoin="round"/>
<path d="M487.4,80.5 C488.0,81.0 490.1,83.1 491.1,83.6 C492.1,84.1 493.2,83.6 493.6,83.6" fill="none" stroke="#222" stroke-width="1.0" stroke-linejoin="round"/>
<path d="M512.2,74.3 C511.8,75.3 510.2,78.8 509.7,80.5 C509.2,82.2 508.7,83.1 509.1,84.3 C509.5,85.5 510.4,86.7 512.2,87.4 C514.0,88.1 516.6,88.5 519.7,88.6 C522.8,88.7 527.1,88.2 530.8,88.0 C534.5,87.8 540.1,87.5 542.0,87.4" fill="none" stroke="#222" stroke-width="1.1" stroke-linejoin="round"/>
<path d="M509.2,80 Q508.5,86 513,87.8 L519,88.4 Q511.5,86 510.6,80 Z" fill="#111"/>
<path d="M531,88.2 L541,87.2 L531,86.8 Z" fill="#111"/>
<path d="M459.9,109.6 Q464,111.2 468.5,110.6 L468,109.6 Z" fill="#111"/>
<line x1="474.80" y1="59.60" x2="474.80" y2="113.30" stroke="#222" stroke-width="1.2"/>
<line x1="479.80" y1="59.60" x2="479.80" y2="113.30" stroke="#222" stroke-width="1.2"/>
<line x1="475.20" y1="121.00" x2="413.75" y2="197.70" stroke="#333" stroke-width="1.2"/>
<path d="M407.5,205.5 L410.5,195.1 L417.0,200.3 Z" fill="#333"/>
<line x1="488.30" y1="121.00" x2="555.65" y2="192.71" stroke="#333" stroke-width="1.2"/>
<path d="M562.5,200.0 L552.6,195.6 L558.7,189.8 Z" fill="#333"/>
<path d="M384.4,215.9 C388.1,215.9 392.8,213.5 397.6,213.3 C402.3,213.1 407.8,213.5 412.9,214.9 C418.0,216.2 423.5,218.7 428.2,221.4 C433.0,224.2 437.7,227.6 441.4,231.3 C445.0,234.9 447.9,238.9 450.1,243.3 C452.3,247.7 453.7,253.0 454.5,257.6 C455.3,262.1 455.3,266.3 455.0,270.7 C454.6,275.1 453.9,279.8 452.3,283.8 C450.8,287.8 448.3,291.7 445.8,294.8 C443.2,297.9 440.3,300.4 437.0,302.4 C433.7,304.4 429.7,306.0 426.0,306.8 C422.4,307.7 418.2,307.7 415.1,307.5 C412.0,307.3 409.6,306.6 407.4,305.7 C405.2,304.9 404.3,303.0 402.0,302.4 C399.6,301.9 396.3,302.3 393.2,302.4 C390.1,302.6 386.8,303.5 383.4,303.5 C379.9,303.5 375.5,302.8 372.4,302.4 C369.3,302.1 367.1,300.9 364.7,301.3 C362.4,301.8 361.1,304.3 358.2,305.3 C355.3,306.3 350.9,307.6 347.2,307.5 C343.6,307.4 339.9,306.4 336.3,304.6 C332.6,302.9 328.6,300.4 325.3,297.0 C322.0,293.5 318.6,288.6 316.6,283.8 C314.6,279.1 313.6,273.6 313.3,268.5 C312.9,263.4 313.1,258.3 314.4,253.2 C315.7,248.1 318.0,242.4 320.9,237.8 C323.9,233.3 327.5,229.3 331.9,225.8 C336.3,222.3 341.7,219.1 347.2,217.0 C352.7,215.0 360.0,213.9 364.7,213.3 C369.5,212.8 372.4,213.3 375.7,213.8 C379.0,214.2 380.8,216.0 384.4,215.9 Z" fill="none" stroke="#222" stroke-width="1.15" stroke-linejoin="round"/>
<path d="M338.5,291.5 C337.4,289.5 333.2,283.6 331.9,279.4 C330.6,275.3 330.4,270.7 330.8,266.3 C331.2,261.9 332.1,257.2 334.1,253.2 C336.1,249.2 339.6,245.1 342.8,242.2 C346.1,239.3 349.8,237.5 353.8,235.7 C357.8,233.8 363.3,231.7 366.9,231.3 C370.6,230.8 372.8,232.3 375.7,233.0 C378.6,233.8 381.5,235.7 384.4,235.7 C387.4,235.7 389.6,233.8 393.2,233.0 C396.9,232.3 402.0,230.8 406.3,231.3 C410.7,231.7 415.5,233.5 419.5,235.7 C423.5,237.8 427.5,241.1 430.4,244.4 C433.3,247.7 435.5,251.3 437.0,255.4 C438.5,259.4 439.2,264.5 439.2,268.5 C439.2,272.5 438.0,276.2 437.0,279.4 C436.0,282.7 434.3,285.9 433.1,287.8 C431.8,289.6 430.0,290.0 429.3,290.4" fill="none" stroke="#222" stroke-width="1.0" stroke-linejoin="round"/>
<path d="M334.5,252.1 C336.3,250.3 341.1,244.0 345.0,241.1 C349.0,238.2 354.2,236.4 358.2,234.6 C362.2,232.7 366.2,230.8 369.1,230.2 C372.0,229.6 373.1,230.4 375.7,230.8 C378.2,231.3 381.5,233.0 384.4,233.0 C387.4,233.0 390.3,231.4 393.2,230.8 C396.1,230.3 398.3,229.3 402.0,229.5 C405.6,229.8 410.7,230.6 415.1,232.4 C419.5,234.1 424.9,236.9 428.2,240.0 C431.6,243.2 434.1,249.5 435.2,251.4" fill="none" stroke="#222" stroke-width="1.0" stroke-linejoin="round"/>
<path d="M338.5,291.5 C337.7,289.8 334.7,285.1 333.6,281.6 C332.6,278.2 332.0,274.2 331.9,270.7 C331.8,267.2 332.6,262.5 332.8,260.8" fill="none" stroke="#111" stroke-width="2.4" stroke-linejoin="round"/>
<path d="M429.3,290.4 C430.3,288.8 433.9,284.0 435.2,280.5 C436.6,277.1 437.2,272.9 437.4,269.6 C437.7,266.3 436.7,262.3 436.6,260.8" fill="none" stroke="#111" stroke-width="2.4" stroke-linejoin="round"/>
<path d="M352.7,237.8 C354.3,236.7 358.9,236.5 361.5,236.1 C364.0,235.7 366.7,234.7 368.0,235.7 C369.3,236.6 369.8,240.0 369.1,241.8 C368.4,243.6 365.2,245.3 363.6,246.6 C362.1,248.0 360.6,248.8 359.9,249.9 C359.2,251.0 360.1,252.6 359.5,253.2 C358.8,253.8 357.1,254.4 356.0,253.6 C354.9,252.8 353.6,250.2 352.9,248.4 C352.2,246.5 351.6,244.4 351.6,242.7 C351.6,240.9 351.1,238.9 352.7,237.8 Z" fill="#141414" stroke="none" stroke-width="1.05" stroke-linejoin="round"/>
<path d="M416.2,237.8 C414.8,236.7 410.0,236.5 407.4,236.1 C404.9,235.7 402.4,234.8 400.9,235.7 C399.3,236.5 397.5,239.3 398.0,241.1 C398.6,243.0 402.3,245.1 404.2,246.6 C406.0,248.1 407.9,248.6 409.0,249.9 C410.0,251.1 409.6,253.4 410.3,254.0 C411.0,254.7 412.6,254.6 413.4,253.6 C414.1,252.6 414.3,249.7 414.7,247.9 C415.0,246.1 415.3,244.3 415.5,242.7 C415.8,241.0 417.5,238.9 416.2,237.8 Z" fill="#141414" stroke="none" stroke-width="1.05" stroke-linejoin="round"/>
<path d="M373.5,248.8 C374.2,248.2 378.2,247.6 380.1,247.3 C381.9,246.9 382.8,246.6 384.4,246.6 C386.1,246.6 388.1,246.8 389.9,247.3 C391.7,247.7 395.2,248.8 395.4,249.4 C395.6,250.1 392.3,250.5 391.0,251.0 C389.7,251.4 388.6,251.4 387.7,252.1 C386.9,252.7 386.7,254.4 385.8,254.9 C384.8,255.4 383.1,255.5 382.3,254.9 C381.4,254.4 381.6,252.3 380.5,251.6 C379.4,251.0 376.9,251.5 375.7,251.0 C374.5,250.5 372.8,249.4 373.5,248.8 Z" fill="#141414" stroke="none" stroke-width="1.05" stroke-linejoin="round"/>
<path d="M362.6,283.8 C363.8,282.5 365.8,281.8 367.4,281.6 C368.9,281.5 370.9,281.5 371.7,283.0 C372.6,284.4 373.0,288.4 372.6,290.4 C372.3,292.4 371.2,294.0 369.6,294.8 C368.0,295.6 364.6,296.1 363.0,295.2 C361.4,294.3 360.0,291.4 359.9,289.5 C359.9,287.6 361.3,285.1 362.6,283.8 Z" fill="none" stroke="#222" stroke-width="1.0" stroke-linejoin="round"/>
<path d="M404.2,283.8 C402.9,282.5 400.9,281.8 399.3,281.6 C397.8,281.5 395.8,281.5 395.0,283.0 C394.1,284.4 393.7,288.4 394.1,290.4 C394.4,292.4 395.5,294.0 397.1,294.8 C398.8,295.6 402.1,296.1 403.7,295.2 C405.3,294.3 406.7,291.4 406.8,289.5 C406.9,287.6 405.4,285.1 404.2,283.8 Z" fill="none" stroke="#222" stroke-width="1.0" stroke-linejoin="round"/>
<path d="M363.6,296.5 C365.5,297.0 371.3,298.3 374.6,299.2 C377.9,300.0 380.4,301.8 383.4,301.8 C386.3,301.8 388.8,300.0 392.1,299.2 C395.4,298.3 401.2,297.0 403.1,296.5" fill="none" stroke="#222" stroke-width="1.0" stroke-linejoin="round"/>
<line x1="382.91" y1="282.07" x2="382.91" y2="303.10" stroke="#111" stroke-width="1.6"/>
<line x1="382.91" y1="283.83" x2="375.69" y2="286.45" stroke="#111" stroke-width="1.0"/>
<line x1="382.91" y1="283.83" x2="390.14" y2="286.45" stroke="#111" stroke-width="1.0"/>
<line x1="382.91" y1="283.83" x2="378.32" y2="290.83" stroke="#111" stroke-width="1.0"/>
<line x1="382.91" y1="283.83" x2="387.51" y2="290.83" stroke="#111" stroke-width="1.0"/>
<line x1="382.91" y1="295.87" x2="379.63" y2="302.44" stroke="#111" stroke-width="1.0"/>
<line x1="382.91" y1="295.87" x2="386.20" y2="302.44" stroke="#111" stroke-width="1.0"/>
<rect x="371.5" y="280.1" width="23.0" height="14.5" fill="none" stroke="#e1252d" stroke-width="2.4"/>
<path d="M527.5,214.2 C532.3,214.1 535.0,211.4 539.6,211.1 C544.1,210.9 549.8,211.5 554.9,212.7 C560.0,213.8 565.5,215.8 570.2,218.1 C575.0,220.5 579.7,223.2 583.4,226.9 C587.0,230.5 589.8,235.3 592.1,240.0 C594.5,244.8 596.6,250.3 597.6,255.4 C598.6,260.5 598.6,265.9 598.3,270.7 C597.9,275.4 597.0,279.8 595.4,283.8 C593.9,287.8 591.6,291.9 588.9,294.8 C586.1,297.7 582.5,299.8 579.0,301.3 C575.5,302.9 572.1,303.4 568.0,304.0 C564.0,304.5 558.7,305.0 554.9,304.6 C551.1,304.3 547.3,301.8 545.1,301.8 C542.8,301.8 544.3,303.5 541.3,304.6 C538.4,305.7 531.5,308.2 527.5,308.4 C523.6,308.5 520.4,306.4 517.7,305.3 C515.0,304.2 514.8,301.9 511.6,301.8 C508.3,301.7 502.8,304.3 498.0,304.6 C493.2,304.9 487.0,304.8 482.7,303.5 C478.3,302.3 475.0,299.9 471.7,297.0 C468.4,294.0 465.2,290.4 462.9,286.0 C460.7,281.6 458.9,276.2 458.1,270.7 C457.4,265.2 457.6,258.6 458.6,253.2 C459.6,247.7 461.1,242.6 464.0,237.8 C467.0,233.1 471.2,228.4 476.1,224.7 C481.0,221.1 487.8,218.1 493.6,215.9 C499.4,213.8 505.5,211.9 511.1,211.6 C516.8,211.3 522.8,214.3 527.5,214.2 Z" fill="none" stroke="#222" stroke-width="1.15" stroke-linejoin="round"/>
<path d="M476.5,277.3 C476.5,273.6 475.8,260.4 476.5,255.1 C477.3,249.9 479.1,249.0 481.1,245.9 C483.2,242.9 486.0,239.4 488.8,236.7 C491.6,234.1 494.9,231.7 498.0,230.0 C501.0,228.2 504.1,226.9 507.2,226.0 C510.2,225.1 514.1,224.3 516.4,224.5 C518.7,224.6 519.1,226.0 521.0,226.9 C522.9,227.8 525.2,230.0 527.8,230.0 C530.3,230.0 534.1,227.7 536.3,226.9 C538.5,226.1 538.6,225.4 540.9,225.4 C543.2,225.4 547.0,226.0 550.1,226.9 C553.2,227.8 556.5,229.0 559.3,230.6 C562.1,232.3 564.7,234.5 567.0,236.7 C569.3,239.0 571.3,241.3 573.1,244.4 C574.9,247.5 576.8,249.7 577.7,255.1 C578.6,260.6 578.4,273.6 578.6,277.3" fill="none" stroke="#222" stroke-width="1.1" stroke-linejoin="round"/>
<path d="M479.2,276.2 C479.2,272.8 478.4,260.6 479.2,255.8 C479.9,251.0 481.6,250.1 483.5,247.3 C485.5,244.4 488.1,241.2 490.8,238.7 C493.4,236.2 496.4,234.0 499.3,232.4 C502.1,230.7 505.0,229.5 507.8,228.6 C510.7,227.8 514.1,227.0 516.4,227.1 C518.6,227.3 519.3,228.6 521.2,229.5 C523.1,230.4 525.4,232.6 527.8,232.6 C530.1,232.6 533.3,230.3 535.4,229.5 C537.5,228.8 538.2,228.0 540.5,228.0 C542.8,228.0 546.4,228.5 549.2,229.3 C552.1,230.1 554.9,231.2 557.5,232.8 C560.1,234.4 562.6,236.5 564.8,238.7 C567.0,240.9 569.0,243.3 570.7,246.2 C572.4,249.0 574.2,250.8 575.1,255.8 C575.9,260.8 575.8,272.8 575.9,276.2" fill="none" stroke="#222" stroke-width="1.0" stroke-linejoin="round"/>
<path d="M527.9,246.8 C527.2,246.8 527.5,245.9 526.3,246.1 C525.2,246.2 522.5,247.1 521.0,247.6 C519.4,248.1 518.4,249.1 517.1,249.1 C515.9,249.1 515.0,248.1 513.3,247.6 C511.6,247.1 509.7,245.8 507.2,246.1 C504.6,246.3 500.5,247.6 498.0,249.1 C495.4,250.7 493.1,253.0 491.9,255.3 C490.6,257.6 490.1,260.3 490.3,262.9 C490.5,265.5 491.7,268.4 493.2,270.7 C494.6,273.0 496.8,275.0 499.1,276.8 C501.3,278.6 503.6,279.9 506.7,281.6 C509.8,283.4 514.8,285.7 517.7,287.1 C520.6,288.6 522.6,289.7 524.3,290.4 C525.9,291.1 526.6,291.5 527.8,291.5 C528.9,291.5 529.6,291.1 531.3,290.4 C532.9,289.7 534.9,288.6 537.8,287.1 C540.8,285.7 545.5,283.4 548.8,281.6 C552.1,279.9 555.2,278.6 557.8,276.7 C560.3,274.9 562.4,272.9 563.9,270.6 C565.4,268.3 566.7,265.5 567.0,262.9 C567.2,260.4 567.0,257.6 565.4,255.3 C563.9,253.0 560.8,250.5 557.8,249.1 C554.7,247.7 549.8,246.8 547.0,246.8 C544.2,246.8 542.7,249.0 540.9,249.1 C539.1,249.2 538.1,248.1 536.3,247.6 C534.5,247.1 531.6,246.2 530.2,246.1 C528.8,245.9 528.5,246.8 527.9,246.8 Z" fill="none" stroke="#222" stroke-width="1.15" stroke-linejoin="round"/>
<path d="M498.0,249.1 C498.3,248.0 498.7,243.7 500.2,242.2 C501.6,240.7 503.8,240.2 506.7,240.0 C509.7,239.9 514.4,241.1 517.7,241.1 C521.0,241.1 525.0,240.2 526.4,240.0" fill="none" stroke="#222" stroke-width="1.0" stroke-linejoin="round"/>
<path d="M557.8,249.1 C557.4,248.0 557.0,243.7 555.6,242.2 C554.1,240.7 551.9,240.2 549.0,240.0 C546.1,239.9 541.3,241.1 538.1,241.1 C534.8,241.1 530.8,240.2 529.3,240.0" fill="none" stroke="#222" stroke-width="1.0" stroke-linejoin="round"/>
<path d="M505.6,236.9 C505.9,236.1 508.2,235.0 510.2,234.6 C512.3,234.1 515.6,233.7 517.9,234.1 C520.2,234.5 523.5,236.0 524.0,236.9 C524.5,237.7 522.8,238.8 521.0,239.2 C519.2,239.5 515.4,239.2 513.3,239.2 C511.3,239.2 510.0,239.5 508.7,239.2 C507.4,238.8 505.4,237.6 505.6,236.9 Z" fill="none" stroke="#222" stroke-width="1.1" stroke-linejoin="round"/>
<path d="M550.1,236.9 C549.8,236.1 547.5,235.0 545.5,234.6 C543.5,234.1 540.1,233.7 537.8,234.1 C535.5,234.5 532.2,236.0 531.7,236.9 C531.2,237.7 533.0,238.8 534.8,239.2 C536.6,239.5 540.4,239.2 542.4,239.2 C544.5,239.2 545.8,239.5 547.0,239.2 C548.3,238.8 550.4,237.6 550.1,236.9 Z" fill="none" stroke="#222" stroke-width="1.1" stroke-linejoin="round"/>
<path d="M509.4,237.2 C510.4,237.0 513.6,236.1 515.5,236.1 C517.4,236.1 520.1,237.2 521.0,237.4" fill="none" stroke="#222" stroke-width="0.9" stroke-linejoin="round"/>
<path d="M546.4,237.2 C545.4,237.0 542.2,236.1 540.2,236.1 C538.3,236.1 535.7,237.2 534.8,237.4" fill="none" stroke="#222" stroke-width="0.9" stroke-linejoin="round"/>
<path d="M526.3,236.9 C526.7,236.0 527.2,236.1 527.9,236.1 C528.5,236.1 529.7,235.7 530.2,236.9 C530.6,238.0 530.5,240.7 530.4,243.0 C530.3,245.3 529.7,248.9 529.4,250.7 C529.1,252.4 529.0,253.3 528.6,253.7 C528.3,254.1 527.5,254.0 527.1,253.0 C526.7,251.9 526.6,249.5 526.3,247.6 C526.1,245.7 525.6,243.2 525.6,241.5 C525.6,239.7 526.0,237.8 526.3,236.9 Z" fill="#111" stroke="none" stroke-width="1.05" stroke-linejoin="round"/>
<path d="M487.7,240.0 C488.1,239.7 489.0,240.0 489.7,241.1 C490.3,242.2 491.0,244.6 491.4,246.6 C491.8,248.6 492.2,252.0 492.1,253.2 C491.9,254.3 491.1,254.3 490.5,253.6 C490.0,252.9 489.3,250.5 488.8,248.8 C488.2,247.1 487.4,244.8 487.3,243.3 C487.1,241.9 487.3,240.4 487.7,240.0 Z" fill="#111" stroke="none" stroke-width="1.05" stroke-linejoin="round"/>
<path d="M568.0,240.0 C567.6,239.7 566.7,240.0 566.1,241.1 C565.5,242.2 564.7,244.6 564.3,246.6 C563.9,248.6 563.5,252.0 563.7,253.2 C563.8,254.3 564.7,254.3 565.2,253.6 C565.8,252.9 566.4,250.5 567.0,248.8 C567.5,247.1 568.3,244.8 568.5,243.3 C568.7,241.9 568.5,240.4 568.0,240.0 Z" fill="#111" stroke="none" stroke-width="1.05" stroke-linejoin="round"/>
<path d="M482.7,257.6 C483.4,258.3 485.8,259.7 487.0,261.9 C488.3,264.1 488.9,267.4 490.3,270.7 C491.8,274.0 493.4,278.4 495.8,281.6 C498.2,284.9 501.6,288.2 504.6,290.4 C507.5,292.6 511.8,294.0 513.3,294.8" fill="none" stroke="#222" stroke-width="1.0" stroke-linejoin="round"/>
<path d="M572.4,257.6 C571.7,258.3 569.3,259.7 568.0,261.9 C566.8,264.1 566.2,267.4 564.8,270.7 C563.3,274.0 561.7,278.4 559.3,281.6 C556.9,284.9 553.5,288.2 550.5,290.4 C547.6,292.6 543.2,294.0 541.8,294.8" fill="none" stroke="#222" stroke-width="1.0" stroke-linejoin="round"/>
<path d="M478.3,279.4 C479.1,277.8 482.8,276.9 484.8,278.4 C486.9,279.8 489.0,284.7 490.3,288.2 C491.6,291.7 493.4,297.0 492.5,299.2 C491.6,301.3 487.0,301.7 484.8,301.3 C482.7,301.0 480.2,299.2 479.4,297.0 C478.6,294.8 480.2,291.1 480.0,288.2 C479.8,285.3 477.5,281.1 478.3,279.4 Z" fill="none" stroke="#222" stroke-width="1.0" stroke-linejoin="round"/>
<path d="M576.8,279.4 C576.0,277.8 572.2,276.9 570.2,278.4 C568.2,279.8 566.0,284.7 564.8,288.2 C563.5,291.7 561.7,297.0 562.6,299.2 C563.5,301.3 568.0,301.7 570.2,301.3 C572.4,301.0 574.9,299.2 575.7,297.0 C576.5,294.8 574.9,291.1 575.1,288.2 C575.2,285.3 577.6,281.1 576.8,279.4 Z" fill="none" stroke="#222" stroke-width="1.0" stroke-linejoin="round"/>
<path d="M517.3,297.0 C517.4,295.1 518.2,292.8 519.9,291.5 C521.6,290.2 525.0,289.3 527.5,289.3 C530.1,289.3 533.4,290.2 535.2,291.5 C537.0,292.8 538.3,295.1 538.5,297.0 C538.7,298.8 538.1,301.1 536.3,302.4 C534.5,303.8 530.5,305.3 527.5,305.3 C524.6,305.3 520.5,303.8 518.8,302.4 C517.1,301.1 517.1,298.8 517.3,297.0 Z" fill="none" stroke="#222" stroke-width="1.0" stroke-linejoin="round"/>
<line x1="527.54" y1="289.30" x2="527.54" y2="307.91" stroke="#111" stroke-width="1.8"/>
<line x1="527.54" y1="299.15" x2="521.63" y2="306.16" stroke="#111" stroke-width="1.1"/>
<line x1="527.54" y1="299.15" x2="533.45" y2="306.16" stroke="#111" stroke-width="1.1"/>
<rect x="517.5" y="297.4" width="23.6" height="14.9" fill="none" stroke="#e1252d" stroke-width="2.4"/>
<text transform="translate(362.73,330.40) scale(1.020,1)" font-size="16.8" fill="#1c1c1c" stroke="#1c1c1c" stroke-width="0.35" xml:space="preserve">PVN</text>
<text transform="translate(515.72,330.70) scale(1.010,1)" font-size="16.8" fill="#1c1c1c" stroke="#1c1c1c" stroke-width="0.35" xml:space="preserve">Arc</text>
<line x1="96.90" y1="420.30" x2="96.90" y2="544.60" stroke="#505050" stroke-width="1.2"/>
<line x1="96.30" y1="544.00" x2="192.00" y2="544.00" stroke="#505050" stroke-width="1.2"/>
<line x1="94.90" y1="544.00" x2="96.90" y2="544.00" stroke="#505050" stroke-width="1"/>
<line x1="94.90" y1="528.54" x2="96.90" y2="528.54" stroke="#505050" stroke-width="1"/>
<line x1="94.90" y1="513.08" x2="96.90" y2="513.08" stroke="#505050" stroke-width="1"/>
<line x1="94.90" y1="497.61" x2="96.90" y2="497.61" stroke="#505050" stroke-width="1"/>
<line x1="94.90" y1="482.15" x2="96.90" y2="482.15" stroke="#505050" stroke-width="1"/>
<line x1="94.90" y1="466.69" x2="96.90" y2="466.69" stroke="#505050" stroke-width="1"/>
<line x1="94.90" y1="451.23" x2="96.90" y2="451.23" stroke="#505050" stroke-width="1"/>
<line x1="94.90" y1="435.76" x2="96.90" y2="435.76" stroke="#505050" stroke-width="1"/>
<line x1="94.90" y1="420.30" x2="96.90" y2="420.30" stroke="#505050" stroke-width="1"/>
<line x1="144.60" y1="544.00" x2="144.60" y2="546.60" stroke="#505050" stroke-width="1"/>
<line x1="192.00" y1="544.00" x2="192.00" y2="546.60" stroke="#505050" stroke-width="1"/>
<text transform="translate(56.81,426.25) scale(1.100,1)" font-size="17" fill="#1c1c1c" stroke="#1c1c1c" stroke-width="0.35" xml:space="preserve">400</text>
<text transform="translate(56.81,488.10) scale(1.100,1)" font-size="17" fill="#1c1c1c" stroke="#1c1c1c" stroke-width="0.35" xml:space="preserve">200</text>
<text transform="translate(77.57,549.95) scale(1.100,1)" font-size="17" fill="#1c1c1c" stroke="#1c1c1c" stroke-width="0.35" xml:space="preserve">0</text>
<line x1="120.60" y1="440.30" x2="120.60" y2="427.50" stroke="#666" stroke-width="1.0"/>
<line x1="119.50" y1="427.50" x2="121.70" y2="427.50" stroke="#333" stroke-width="1.2"/>
<line x1="120.60" y1="440.30" x2="168.10" y2="520.60" stroke="#1c1c1c" stroke-width="1.3"/>
<ellipse cx="120.6" cy="440.3" rx="1.8" ry="2.4" fill="#1c1c1c"/>
<ellipse cx="168.1" cy="520.6" rx="1.8" ry="2.4" fill="#1c1c1c"/>
<line x1="168.10" y1="513.30" x2="168.10" y2="509.00" stroke="#666" stroke-width="1.0"/>
<line x1="167.00" y1="509.00" x2="169.20" y2="509.00" stroke="#333" stroke-width="1.2"/>
<line x1="120.60" y1="452.80" x2="168.10" y2="513.30" stroke="#e3323a" stroke-width="1.3"/>
<ellipse cx="120.6" cy="452.8" rx="1.8" ry="2.4" fill="#e3323a"/>
<ellipse cx="168.1" cy="513.3" rx="1.8" ry="2.4" fill="#e3323a"/>
<text transform="translate(121.13,569.40) scale(1.060,1)" font-size="20.6" fill="#1c1c1c" stroke="#1c1c1c" stroke-width="0.35" xml:space="preserve">0</text>
<text transform="translate(173.13,569.40) scale(1.060,1)" font-size="20.6" fill="#1c1c1c" stroke="#1c1c1c" stroke-width="0.35" xml:space="preserve">3</text>
<text transform="translate(103.07,400.30) scale(1.035,1)" font-size="18.5" fill="#1c1c1c" stroke="#1c1c1c" stroke-width="0.35" xml:space="preserve">Pancreas</text>
<text transform="translate(-0.08,385.70) scale(1.000,1)" font-size="21.3" font-weight="bold" fill="#111" stroke="#111" stroke-width="0.35" xml:space="preserve">B</text>
<line x1="260.10" y1="424.90" x2="260.10" y2="544.10" stroke="#505050" stroke-width="1.2"/>
<line x1="259.50" y1="543.50" x2="357.10" y2="543.50" stroke="#505050" stroke-width="1.2"/>
<line x1="258.10" y1="543.50" x2="260.10" y2="543.50" stroke="#505050" stroke-width="1"/>
<line x1="258.10" y1="528.67" x2="260.10" y2="528.67" stroke="#505050" stroke-width="1"/>
<line x1="258.10" y1="513.85" x2="260.10" y2="513.85" stroke="#505050" stroke-width="1"/>
<line x1="258.10" y1="499.02" x2="260.10" y2="499.02" stroke="#505050" stroke-width="1"/>
<line x1="258.10" y1="484.20" x2="260.10" y2="484.20" stroke="#505050" stroke-width="1"/>
<line x1="258.10" y1="469.38" x2="260.10" y2="469.38" stroke="#505050" stroke-width="1"/>
<line x1="258.10" y1="454.55" x2="260.10" y2="454.55" stroke="#505050" stroke-width="1"/>
<line x1="258.10" y1="439.72" x2="260.10" y2="439.72" stroke="#505050" stroke-width="1"/>
<line x1="258.10" y1="424.90" x2="260.10" y2="424.90" stroke="#505050" stroke-width="1"/>
<line x1="309.00" y1="543.50" x2="309.00" y2="546.10" stroke="#505050" stroke-width="1"/>
<line x1="357.10" y1="543.50" x2="357.10" y2="546.10" stroke="#505050" stroke-width="1"/>
<text transform="translate(220.87,431.30) scale(1.010,1)" font-size="18.3" fill="#1c1c1c" stroke="#1c1c1c" stroke-width="0.35" xml:space="preserve">160</text>
<text transform="translate(220.87,460.95) scale(1.010,1)" font-size="18.3" fill="#1c1c1c" stroke="#1c1c1c" stroke-width="0.35" xml:space="preserve">120</text>
<text transform="translate(231.12,490.60) scale(1.010,1)" font-size="18.3" fill="#1c1c1c" stroke="#1c1c1c" stroke-width="0.35" xml:space="preserve">80</text>
<text transform="translate(231.12,520.25) scale(1.010,1)" font-size="18.3" fill="#1c1c1c" stroke="#1c1c1c" stroke-width="0.35" xml:space="preserve">40</text>
<text transform="translate(241.38,549.90) scale(1.010,1)" font-size="18.3" fill="#1c1c1c" stroke="#1c1c1c" stroke-width="0.35" xml:space="preserve">0</text>
<line x1="284.60" y1="448.30" x2="284.60" y2="420.70" stroke="#666" stroke-width="1.0"/>
<line x1="283.50" y1="420.70" x2="285.70" y2="420.70" stroke="#333" stroke-width="1.2"/>
<line x1="332.70" y1="521.20" x2="332.70" y2="509.50" stroke="#666" stroke-width="1.0"/>
<line x1="331.60" y1="509.50" x2="333.80" y2="509.50" stroke="#333" stroke-width="1.2"/>
<line x1="284.60" y1="448.30" x2="332.70" y2="521.20" stroke="#1c1c1c" stroke-width="1.3"/>
<ellipse cx="284.6" cy="448.3" rx="1.8" ry="2.4" fill="#1c1c1c"/>
<ellipse cx="332.7" cy="521.2" rx="1.8" ry="2.4" fill="#1c1c1c"/>
<line x1="284.60" y1="502.50" x2="284.60" y2="495.00" stroke="#666" stroke-width="1.0"/>
<line x1="283.50" y1="495.00" x2="285.70" y2="495.00" stroke="#333" stroke-width="1.2"/>
<line x1="332.70" y1="531.70" x2="332.70" y2="528.70" stroke="#666" stroke-width="1.0"/>
<line x1="331.60" y1="528.70" x2="333.80" y2="528.70" stroke="#333" stroke-width="1.2"/>
<line x1="284.60" y1="502.50" x2="332.70" y2="531.70" stroke="#e3323a" stroke-width="1.3"/>
<ellipse cx="284.6" cy="502.5" rx="1.8" ry="2.4" fill="#e3323a"/>
<ellipse cx="332.7" cy="531.7" rx="1.8" ry="2.4" fill="#e3323a"/>
<text transform="translate(276.74,569.40) scale(1.040,1)" font-size="20.6" fill="#1c1c1c" stroke="#1c1c1c" stroke-width="0.35" xml:space="preserve">0</text>
<text transform="translate(326.34,569.40) scale(1.040,1)" font-size="20.6" fill="#1c1c1c" stroke="#1c1c1c" stroke-width="0.35" xml:space="preserve">3</text>
<text transform="translate(277.00,400.30) scale(1.140,1)" font-size="18.6" fill="#1c1c1c" stroke="#1c1c1c" stroke-width="0.35" xml:space="preserve">Liver</text>
<text transform="translate(221.55,385.30) scale(1.000,1)" font-size="21.3" font-weight="bold" fill="#111" stroke="#111" stroke-width="0.35" xml:space="preserve">C</text>
<line x1="429.60" y1="421.40" x2="429.60" y2="543.10" stroke="#505050" stroke-width="1.2"/>
<line x1="429.00" y1="542.50" x2="520.40" y2="542.50" stroke="#505050" stroke-width="1.2"/>
<line x1="427.60" y1="542.50" x2="429.60" y2="542.50" stroke="#505050" stroke-width="1"/>
<line x1="427.60" y1="522.32" x2="429.60" y2="522.32" stroke="#505050" stroke-width="1"/>
<line x1="427.60" y1="502.13" x2="429.60" y2="502.13" stroke="#505050" stroke-width="1"/>
<line x1="427.60" y1="481.95" x2="429.60" y2="481.95" stroke="#505050" stroke-width="1"/>
<line x1="427.60" y1="461.77" x2="429.60" y2="461.77" stroke="#505050" stroke-width="1"/>
<line x1="427.60" y1="441.58" x2="429.60" y2="441.58" stroke="#505050" stroke-width="1"/>
<line x1="427.60" y1="421.40" x2="429.60" y2="421.40" stroke="#505050" stroke-width="1"/>
<line x1="475.70" y1="542.50" x2="475.70" y2="545.10" stroke="#505050" stroke-width="1"/>
<line x1="520.40" y1="542.50" x2="520.40" y2="545.10" stroke="#505050" stroke-width="1"/>
<text transform="translate(387.05,427.91) scale(1.100,1)" font-size="18.6" fill="#1c1c1c" stroke="#1c1c1c" stroke-width="0.35" xml:space="preserve">600</text>
<text transform="translate(387.05,468.28) scale(1.100,1)" font-size="18.6" fill="#1c1c1c" stroke="#1c1c1c" stroke-width="0.35" xml:space="preserve">400</text>
<text transform="translate(387.05,508.64) scale(1.100,1)" font-size="18.6" fill="#1c1c1c" stroke="#1c1c1c" stroke-width="0.35" xml:space="preserve">200</text>
<text transform="translate(409.76,549.01) scale(1.100,1)" font-size="18.6" fill="#1c1c1c" stroke="#1c1c1c" stroke-width="0.35" xml:space="preserve">0</text>
<line x1="452.70" y1="421.40" x2="452.70" y2="417.20" stroke="#666" stroke-width="1.0"/>
<line x1="451.60" y1="417.20" x2="453.80" y2="417.20" stroke="#333" stroke-width="1.2"/>
<line x1="498.30" y1="457.60" x2="498.30" y2="452.30" stroke="#666" stroke-width="1.0"/>
<line x1="497.20" y1="452.30" x2="499.40" y2="452.30" stroke="#333" stroke-width="1.2"/>
<line x1="452.70" y1="421.40" x2="498.30" y2="457.60" stroke="#1c1c1c" stroke-width="1.3"/>
<ellipse cx="452.7" cy="421.4" rx="1.8" ry="2.4" fill="#1c1c1c"/>
<ellipse cx="498.3" cy="457.6" rx="1.8" ry="2.4" fill="#1c1c1c"/>
<line x1="452.70" y1="458.10" x2="452.70" y2="453.40" stroke="#666" stroke-width="1.0"/>
<line x1="451.60" y1="453.40" x2="453.80" y2="453.40" stroke="#333" stroke-width="1.2"/>
<line x1="452.70" y1="458.10" x2="498.30" y2="486.10" stroke="#e3323a" stroke-width="1.3"/>
<ellipse cx="452.7" cy="458.1" rx="1.8" ry="2.4" fill="#e3323a"/>
<ellipse cx="498.3" cy="486.1" rx="1.8" ry="2.4" fill="#e3323a"/>
<text transform="translate(448.43,569.40) scale(1.050,1)" font-size="20.6" fill="#1c1c1c" stroke="#1c1c1c" stroke-width="0.35" xml:space="preserve">0</text>
<text transform="translate(497.53,569.40) scale(1.050,1)" font-size="20.6" fill="#1c1c1c" stroke="#1c1c1c" stroke-width="0.35" xml:space="preserve">3</text>
<text transform="translate(456.20,400.30) scale(1.000,1)" font-size="18.7" fill="#1c1c1c" stroke="#1c1c1c" stroke-width="0.35" xml:space="preserve">EDL</text>
<text transform="translate(386.62,385.70) scale(1.000,1)" font-size="21.3" font-weight="bold" fill="#111" stroke="#111" stroke-width="0.35" xml:space="preserve">D</text>
<line x1="594.30" y1="420.30" x2="594.30" y2="544.10" stroke="#505050" stroke-width="1.2"/>
<line x1="593.70" y1="543.50" x2="686.00" y2="543.50" stroke="#505050" stroke-width="1.2"/>
<line x1="592.30" y1="543.50" x2="594.30" y2="543.50" stroke="#505050" stroke-width="1"/>
<line x1="592.30" y1="528.10" x2="594.30" y2="528.10" stroke="#505050" stroke-width="1"/>
<line x1="592.30" y1="512.70" x2="594.30" y2="512.70" stroke="#505050" stroke-width="1"/>
<line x1="592.30" y1="497.30" x2="594.30" y2="497.30" stroke="#505050" stroke-width="1"/>
<line x1="592.30" y1="481.90" x2="594.30" y2="481.90" stroke="#505050" stroke-width="1"/>
<line x1="592.30" y1="466.50" x2="594.30" y2="466.50" stroke="#505050" stroke-width="1"/>
<line x1="592.30" y1="451.10" x2="594.30" y2="451.10" stroke="#505050" stroke-width="1"/>
<line x1="592.30" y1="435.70" x2="594.30" y2="435.70" stroke="#505050" stroke-width="1"/>
<line x1="592.30" y1="420.30" x2="594.30" y2="420.30" stroke="#505050" stroke-width="1"/>
<line x1="639.70" y1="543.50" x2="639.70" y2="546.10" stroke="#505050" stroke-width="1"/>
<line x1="686.00" y1="543.50" x2="686.00" y2="546.10" stroke="#505050" stroke-width="1"/>
<text transform="translate(556.18,426.81) scale(0.960,1)" font-size="18.6" fill="#1c1c1c" stroke="#1c1c1c" stroke-width="0.35" xml:space="preserve">800</text>
<text transform="translate(556.18,457.61) scale(0.960,1)" font-size="18.6" fill="#1c1c1c" stroke="#1c1c1c" stroke-width="0.35" xml:space="preserve">600</text>
<text transform="translate(556.18,488.41) scale(0.960,1)" font-size="18.6" fill="#1c1c1c" stroke="#1c1c1c" stroke-width="0.35" xml:space="preserve">400</text>
<text transform="translate(556.18,519.21) scale(0.960,1)" font-size="18.6" fill="#1c1c1c" stroke="#1c1c1c" stroke-width="0.35" xml:space="preserve">200</text>
<text transform="translate(576.00,550.01) scale(0.960,1)" font-size="18.6" fill="#1c1c1c" stroke="#1c1c1c" stroke-width="0.35" xml:space="preserve">0</text>
<line x1="617.00" y1="449.60" x2="617.00" y2="440.70" stroke="#666" stroke-width="1.0"/>
<line x1="615.90" y1="440.70" x2="618.10" y2="440.70" stroke="#333" stroke-width="1.2"/>
<line x1="617.00" y1="449.60" x2="662.10" y2="467.20" stroke="#1c1c1c" stroke-width="1.3"/>
<ellipse cx="617.0" cy="449.6" rx="1.8" ry="2.4" fill="#1c1c1c"/>
<ellipse cx="662.1" cy="467.2" rx="1.8" ry="2.4" fill="#1c1c1c"/>
<line x1="617.00" y1="431.00" x2="617.00" y2="423.10" stroke="#666" stroke-width="1.0"/>
<line x1="615.90" y1="423.10" x2="618.10" y2="423.10" stroke="#333" stroke-width="1.2"/>
<line x1="662.10" y1="462.40" x2="662.10" y2="453.90" stroke="#666" stroke-width="1.0"/>
<line x1="661.00" y1="453.90" x2="663.20" y2="453.90" stroke="#333" stroke-width="1.2"/>
<line x1="617.00" y1="431.00" x2="662.10" y2="462.40" stroke="#e3323a" stroke-width="1.3"/>
<ellipse cx="617.0" cy="431.0" rx="1.8" ry="2.4" fill="#e3323a"/>
<ellipse cx="662.1" cy="462.4" rx="1.8" ry="2.4" fill="#e3323a"/>
<text transform="translate(610.53,569.40) scale(1.050,1)" font-size="20.6" fill="#1c1c1c" stroke="#1c1c1c" stroke-width="0.35" xml:space="preserve">0</text>
<text transform="translate(659.93,569.40) scale(1.050,1)" font-size="20.6" fill="#1c1c1c" stroke="#1c1c1c" stroke-width="0.35" xml:space="preserve">3</text>
<text transform="translate(625.43,400.30) scale(1.080,1)" font-size="17.9" fill="#1c1c1c" stroke="#1c1c1c" stroke-width="0.35" xml:space="preserve">Sol</text>
<text transform="translate(555.92,385.30) scale(1.000,1)" font-size="21.3" font-weight="bold" fill="#111" stroke="#111" stroke-width="0.35" xml:space="preserve">E</text>
<text transform="translate(35.20,566.86) rotate(-90) scale(1,1.100)" font-size="19.5" fill="#1c1c1c" stroke="#1c1c1c" stroke-width="0.35" xml:space="preserve">NE</text>
<text transform="translate(35.20,528.19) rotate(-90) scale(1,1.080)" font-size="19.85" fill="#1c1c1c" stroke="#1c1c1c" stroke-width="0.35" xml:space="preserve">(ng/g of tissue)</text>
<text transform="translate(257.12,600.80) scale(1.010,1)" font-size="18.8" fill="#1c1c1c" stroke="#1c1c1c" stroke-width="0.35" xml:space="preserve">Time after MPT inj (h)</text>
<line x1="123.55" y1="670.90" x2="123.55" y2="653.00" stroke="#555" stroke-width="1.0"/>
<line x1="121.75" y1="653.00" x2="125.35" y2="653.00" stroke="#333" stroke-width="1.2"/>
<rect x="112.50" y="670.90" width="22.10" height="143.50" fill="#231f20" stroke="none" stroke-width="0"/>
<line x1="152.10" y1="739.50" x2="152.10" y2="725.90" stroke="#555" stroke-width="1.0"/>
<line x1="150.30" y1="725.90" x2="153.90" y2="725.90" stroke="#333" stroke-width="1.2"/>
<rect x="141.30" y="739.90" width="21.60" height="74.50" fill="#e3323a" stroke="#2a2a2a" stroke-width="0.8"/>
<line x1="98.00" y1="644.50" x2="98.00" y2="814.40" stroke="#111" stroke-width="1.6"/>
<line x1="94.90" y1="814.40" x2="173.60" y2="814.40" stroke="#111" stroke-width="1.6"/>
<line x1="94.20" y1="814.40" x2="98.00" y2="814.40" stroke="#111" stroke-width="1.6"/>
<text transform="translate(75.98,820.35) scale(1.030,1)" font-size="17" fill="#1c1c1c" stroke="#1c1c1c" stroke-width="0.35" xml:space="preserve">0</text>
<line x1="94.20" y1="780.52" x2="98.00" y2="780.52" stroke="#111" stroke-width="1.6"/>
<text transform="translate(56.55,786.47) scale(1.030,1)" font-size="17" fill="#1c1c1c" stroke="#1c1c1c" stroke-width="0.35" xml:space="preserve">100</text>
<line x1="94.20" y1="746.64" x2="98.00" y2="746.64" stroke="#111" stroke-width="1.6"/>
<text transform="translate(56.55,752.59) scale(1.030,1)" font-size="17" fill="#1c1c1c" stroke="#1c1c1c" stroke-width="0.35" xml:space="preserve">200</text>
<line x1="94.20" y1="712.76" x2="98.00" y2="712.76" stroke="#111" stroke-width="1.6"/>
<text transform="translate(56.55,718.71) scale(1.030,1)" font-size="17" fill="#1c1c1c" stroke="#1c1c1c" stroke-width="0.35" xml:space="preserve">300</text>
<line x1="94.20" y1="678.88" x2="98.00" y2="678.88" stroke="#111" stroke-width="1.6"/>
<text transform="translate(56.55,684.83) scale(1.030,1)" font-size="17" fill="#1c1c1c" stroke="#1c1c1c" stroke-width="0.35" xml:space="preserve">400</text>
<line x1="94.20" y1="645.00" x2="98.00" y2="645.00" stroke="#111" stroke-width="1.6"/>
<text transform="translate(56.55,650.95) scale(1.030,1)" font-size="17" fill="#1c1c1c" stroke="#1c1c1c" stroke-width="0.35" xml:space="preserve">500</text>
<line x1="134.10" y1="814.40" x2="134.10" y2="817.90" stroke="#111" stroke-width="1"/>
<line x1="173.60" y1="814.40" x2="173.60" y2="817.90" stroke="#111" stroke-width="1"/>
<path d="M129.2,645.6 L129.2,639.9 L157.7,639.9 L157.7,645.6" fill="none" stroke="#555" stroke-width="1.2"/>
<path d="M141.70,620.41 L141.70,615.22 M141.70,620.41 L137.35,619.09 M141.70,620.41 L146.05,619.09 M141.70,620.41 L138.83,624.98 M141.70,620.41 L144.57,624.98 " stroke="#111" stroke-width="2.2" stroke-linecap="round" fill="none"/>
<line x1="262.45" y1="672.80" x2="262.45" y2="667.40" stroke="#555" stroke-width="1.0"/>
<line x1="260.65" y1="667.40" x2="264.25" y2="667.40" stroke="#333" stroke-width="1.2"/>
<rect x="251.80" y="672.80" width="21.30" height="142.60" fill="#231f20" stroke="none" stroke-width="0"/>
<line x1="291.20" y1="722.10" x2="291.20" y2="717.30" stroke="#555" stroke-width="1.0"/>
<line x1="289.40" y1="717.30" x2="293.00" y2="717.30" stroke="#333" stroke-width="1.2"/>
<rect x="280.70" y="722.50" width="21.00" height="92.90" fill="#e3323a" stroke="#2a2a2a" stroke-width="0.8"/>
<line x1="243.20" y1="639.60" x2="243.20" y2="815.40" stroke="#222" stroke-width="1.3"/>
<line x1="240.20" y1="815.40" x2="314.80" y2="815.40" stroke="#222" stroke-width="1.3"/>
<line x1="239.40" y1="815.40" x2="243.20" y2="815.40" stroke="#222" stroke-width="1.3"/>
<text transform="translate(223.16,821.45) scale(0.970,1)" font-size="17.3" fill="#1c1c1c" stroke="#1c1c1c" stroke-width="0.35" xml:space="preserve">0</text>
<line x1="239.40" y1="780.34" x2="243.20" y2="780.34" stroke="#222" stroke-width="1.3"/>
<text transform="translate(213.84,786.39) scale(0.970,1)" font-size="17.3" fill="#1c1c1c" stroke="#1c1c1c" stroke-width="0.35" xml:space="preserve">50</text>
<line x1="239.40" y1="745.28" x2="243.20" y2="745.28" stroke="#222" stroke-width="1.3"/>
<text transform="translate(204.53,751.33) scale(0.970,1)" font-size="17.3" fill="#1c1c1c" stroke="#1c1c1c" stroke-width="0.35" xml:space="preserve">100</text>
<line x1="239.40" y1="710.22" x2="243.20" y2="710.22" stroke="#222" stroke-width="1.3"/>
<text transform="translate(204.53,716.27) scale(0.970,1)" font-size="17.3" fill="#1c1c1c" stroke="#1c1c1c" stroke-width="0.35" xml:space="preserve">150</text>
<line x1="239.40" y1="675.16" x2="243.20" y2="675.16" stroke="#222" stroke-width="1.3"/>
<text transform="translate(204.53,681.22) scale(0.970,1)" font-size="17.3" fill="#1c1c1c" stroke="#1c1c1c" stroke-width="0.35" xml:space="preserve">200</text>
<line x1="239.40" y1="640.10" x2="243.20" y2="640.10" stroke="#222" stroke-width="1.3"/>
<text transform="translate(204.53,646.15) scale(0.970,1)" font-size="17.3" fill="#1c1c1c" stroke="#1c1c1c" stroke-width="0.35" xml:space="preserve">250</text>
<line x1="277.40" y1="815.40" x2="277.40" y2="818.90" stroke="#222" stroke-width="1"/>
<line x1="314.80" y1="815.40" x2="314.80" y2="818.90" stroke="#222" stroke-width="1"/>
<path d="M265.8,651.5 L265.8,645.4 L294.5,645.4 L294.5,651.5" fill="none" stroke="#555" stroke-width="1.2"/>
<path d="M279.70,629.31 L279.70,624.12 M279.70,629.31 L275.35,627.99 M279.70,629.31 L284.05,627.99 M279.70,629.31 L276.83,633.88 M279.70,629.31 L282.57,633.88 " stroke="#111" stroke-width="2.2" stroke-linecap="round" fill="none"/>
<line x1="413.25" y1="696.50" x2="413.25" y2="659.90" stroke="#555" stroke-width="1.0"/>
<line x1="411.45" y1="659.90" x2="415.05" y2="659.90" stroke="#333" stroke-width="1.2"/>
<rect x="403.40" y="696.50" width="19.70" height="116.50" fill="#231f20" stroke="none" stroke-width="0"/>
<line x1="437.75" y1="779.00" x2="437.75" y2="750.10" stroke="#555" stroke-width="1.0"/>
<line x1="435.95" y1="750.10" x2="439.55" y2="750.10" stroke="#333" stroke-width="1.2"/>
<rect x="428.10" y="779.40" width="19.30" height="33.60" fill="#e3323a" stroke="#2a2a2a" stroke-width="0.8"/>
<line x1="390.60" y1="637.40" x2="390.60" y2="813.00" stroke="#222" stroke-width="1.3"/>
<line x1="388.00" y1="813.00" x2="457.40" y2="813.00" stroke="#222" stroke-width="1.3"/>
<line x1="386.80" y1="813.00" x2="390.60" y2="813.00" stroke="#222" stroke-width="1.3"/>
<text transform="translate(366.43,818.77) scale(1.220,1)" font-size="16.5" fill="#1c1c1c" stroke="#1c1c1c" stroke-width="0.35" xml:space="preserve">0</text>
<line x1="386.80" y1="777.98" x2="390.60" y2="777.98" stroke="#222" stroke-width="1.3"/>
<text transform="translate(355.26,783.75) scale(1.220,1)" font-size="16.5" fill="#1c1c1c" stroke="#1c1c1c" stroke-width="0.35" xml:space="preserve">50</text>
<line x1="386.80" y1="742.96" x2="390.60" y2="742.96" stroke="#222" stroke-width="1.3"/>
<text transform="translate(344.09,748.74) scale(1.220,1)" font-size="16.5" fill="#1c1c1c" stroke="#1c1c1c" stroke-width="0.35" xml:space="preserve">100</text>
<line x1="386.80" y1="707.94" x2="390.60" y2="707.94" stroke="#222" stroke-width="1.3"/>
<text transform="translate(344.09,713.71) scale(1.220,1)" font-size="16.5" fill="#1c1c1c" stroke="#1c1c1c" stroke-width="0.35" xml:space="preserve">150</text>
<line x1="386.80" y1="672.92" x2="390.60" y2="672.92" stroke="#222" stroke-width="1.3"/>
<text transform="translate(344.09,678.69) scale(1.220,1)" font-size="16.5" fill="#1c1c1c" stroke="#1c1c1c" stroke-width="0.35" xml:space="preserve">200</text>
<line x1="386.80" y1="637.90" x2="390.60" y2="637.90" stroke="#222" stroke-width="1.3"/>
<text transform="translate(344.09,643.67) scale(1.220,1)" font-size="16.5" fill="#1c1c1c" stroke="#1c1c1c" stroke-width="0.35" xml:space="preserve">250</text>
<line x1="423.00" y1="813.00" x2="423.00" y2="816.50" stroke="#222" stroke-width="1"/>
<line x1="457.40" y1="813.00" x2="457.40" y2="816.50" stroke="#222" stroke-width="1"/>
<path d="M413.3,653.6 L413.3,648.6 L442,648.6 L442,653.6" fill="none" stroke="#555" stroke-width="1.2"/>
<path d="M427.30,634.74 L427.30,630.73 M427.30,634.74 L423.00,633.72 M427.30,634.74 L431.60,633.72 M427.30,634.74 L424.46,638.27 M427.30,634.74 L430.14,638.27 " stroke="#111" stroke-width="2.2" stroke-linecap="round" fill="none"/>
<line x1="547.95" y1="724.30" x2="547.95" y2="715.50" stroke="#555" stroke-width="1.0"/>
<line x1="546.15" y1="715.50" x2="549.75" y2="715.50" stroke="#333" stroke-width="1.2"/>
<rect x="538.30" y="724.30" width="19.30" height="89.30" fill="#231f20" stroke="none" stroke-width="0"/>
<line x1="574.25" y1="658.60" x2="574.25" y2="647.70" stroke="#555" stroke-width="1.0"/>
<line x1="572.45" y1="647.70" x2="576.05" y2="647.70" stroke="#333" stroke-width="1.2"/>
<rect x="565.00" y="659.00" width="18.50" height="154.60" fill="#e3323a" stroke="#2a2a2a" stroke-width="0.8"/>
<line x1="524.90" y1="641.80" x2="524.90" y2="813.60" stroke="#222" stroke-width="1.3"/>
<line x1="521.50" y1="813.60" x2="593.00" y2="813.60" stroke="#222" stroke-width="1.3"/>
<line x1="521.10" y1="813.60" x2="524.90" y2="813.60" stroke="#222" stroke-width="1.3"/>
<text transform="translate(502.74,819.17) scale(1.070,1)" font-size="15.9" fill="#1c1c1c" stroke="#1c1c1c" stroke-width="0.35" xml:space="preserve">0</text>
<line x1="521.10" y1="794.57" x2="524.90" y2="794.57" stroke="#222" stroke-width="1.3"/>
<text transform="translate(493.30,800.13) scale(1.070,1)" font-size="15.9" fill="#1c1c1c" stroke="#1c1c1c" stroke-width="0.35" xml:space="preserve">20</text>
<line x1="521.10" y1="775.53" x2="524.90" y2="775.53" stroke="#222" stroke-width="1.3"/>
<text transform="translate(493.30,781.10) scale(1.070,1)" font-size="15.9" fill="#1c1c1c" stroke="#1c1c1c" stroke-width="0.35" xml:space="preserve">40</text>
<line x1="521.10" y1="756.50" x2="524.90" y2="756.50" stroke="#222" stroke-width="1.3"/>
<text transform="translate(493.30,762.07) scale(1.070,1)" font-size="15.9" fill="#1c1c1c" stroke="#1c1c1c" stroke-width="0.35" xml:space="preserve">60</text>
<line x1="521.10" y1="737.47" x2="524.90" y2="737.47" stroke="#222" stroke-width="1.3"/>
<text transform="translate(493.30,743.03) scale(1.070,1)" font-size="15.9" fill="#1c1c1c" stroke="#1c1c1c" stroke-width="0.35" xml:space="preserve">80</text>
<line x1="521.10" y1="718.43" x2="524.90" y2="718.43" stroke="#222" stroke-width="1.3"/>
<text transform="translate(483.85,724.00) scale(1.070,1)" font-size="15.9" fill="#1c1c1c" stroke="#1c1c1c" stroke-width="0.35" xml:space="preserve">100</text>
<line x1="521.10" y1="699.40" x2="524.90" y2="699.40" stroke="#222" stroke-width="1.3"/>
<text transform="translate(483.85,704.97) scale(1.070,1)" font-size="15.9" fill="#1c1c1c" stroke="#1c1c1c" stroke-width="0.35" xml:space="preserve">120</text>
<line x1="521.10" y1="680.37" x2="524.90" y2="680.37" stroke="#222" stroke-width="1.3"/>
<text transform="translate(483.85,685.93) scale(1.070,1)" font-size="15.9" fill="#1c1c1c" stroke="#1c1c1c" stroke-width="0.35" xml:space="preserve">140</text>
<line x1="521.10" y1="661.33" x2="524.90" y2="661.33" stroke="#222" stroke-width="1.3"/>
<text transform="translate(483.85,666.90) scale(1.070,1)" font-size="15.9" fill="#1c1c1c" stroke="#1c1c1c" stroke-width="0.35" xml:space="preserve">160</text>
<line x1="521.10" y1="642.30" x2="524.90" y2="642.30" stroke="#222" stroke-width="1.3"/>
<text transform="translate(483.85,647.87) scale(1.070,1)" font-size="15.9" fill="#1c1c1c" stroke="#1c1c1c" stroke-width="0.35" xml:space="preserve">180</text>
<line x1="558.70" y1="813.60" x2="558.70" y2="817.10" stroke="#222" stroke-width="1"/>
<line x1="593.00" y1="813.60" x2="593.00" y2="817.10" stroke="#222" stroke-width="1"/>
<path d="M538.5,640 L538.5,633.7 L573.4,633.7 L573.4,640" fill="none" stroke="#555" stroke-width="1.2"/>
<path d="M555.60,619.82 L555.60,614.51 M555.60,619.82 L551.25,618.47 M555.60,619.82 L559.95,618.47 M555.60,619.82 L552.73,624.50 M555.60,619.82 L558.47,624.50 " stroke="#111" stroke-width="2.2" stroke-linecap="round" fill="none"/>
<text transform="translate(13.80,785.55) rotate(-90) scale(1,1.000)" font-size="17.6" fill="#1c1c1c" stroke="#1c1c1c" stroke-width="0.35" xml:space="preserve">Turnover rate</text>
<text transform="translate(35.10,786.24) rotate(-90) scale(1,1.040)" font-size="17.4" fill="#1c1c1c" stroke="#1c1c1c" stroke-width="0.35" xml:space="preserve">(ng/g tissue/h)</text>
<line x1="129.10" y1="1030.20" x2="129.10" y2="1019.00" stroke="#555" stroke-width="1.0"/>
<line x1="127.30" y1="1019.00" x2="130.90" y2="1019.00" stroke="#333" stroke-width="1.2"/>
<rect x="115.70" y="1030.20" width="26.80" height="83.80" fill="#231f20" stroke="none" stroke-width="0"/>
<line x1="155.90" y1="952.20" x2="155.90" y2="922.00" stroke="#555" stroke-width="1.0"/>
<line x1="154.10" y1="922.00" x2="157.70" y2="922.00" stroke="#333" stroke-width="1.2"/>
<rect x="142.90" y="952.60" width="26.00" height="161.40" fill="#e3323a" stroke="#2a2a2a" stroke-width="0.8"/>
<line x1="198.65" y1="1055.20" x2="198.65" y2="1047.20" stroke="#555" stroke-width="1.0"/>
<line x1="196.85" y1="1047.20" x2="200.45" y2="1047.20" stroke="#333" stroke-width="1.2"/>
<rect x="185.10" y="1055.20" width="27.10" height="58.80" fill="#231f20" stroke="none" stroke-width="0"/>
<line x1="225.60" y1="1022.80" x2="225.60" y2="1006.80" stroke="#555" stroke-width="1.0"/>
<line x1="223.80" y1="1006.80" x2="227.40" y2="1006.80" stroke="#333" stroke-width="1.2"/>
<rect x="212.60" y="1023.20" width="26.00" height="90.80" fill="#e3323a" stroke="#2a2a2a" stroke-width="0.8"/>
<line x1="98.90" y1="888.20" x2="98.90" y2="1114.00" stroke="#444" stroke-width="1.2"/>
<line x1="95.80" y1="1114.00" x2="255.00" y2="1114.00" stroke="#444" stroke-width="1.2"/>
<line x1="95.10" y1="1114.00" x2="98.90" y2="1114.00" stroke="#444" stroke-width="1.2"/>
<text transform="translate(77.12,1120.40) scale(1.070,1)" font-size="18.3" fill="#1c1c1c" stroke="#1c1c1c" stroke-width="0.35" xml:space="preserve">0</text>
<line x1="95.10" y1="1038.90" x2="98.90" y2="1038.90" stroke="#444" stroke-width="1.2"/>
<text transform="translate(77.31,1045.31) scale(1.070,1)" font-size="18.3" fill="#1c1c1c" stroke="#1c1c1c" stroke-width="0.35" xml:space="preserve">1</text>
<line x1="95.10" y1="963.80" x2="98.90" y2="963.80" stroke="#444" stroke-width="1.2"/>
<text transform="translate(77.31,970.21) scale(1.070,1)" font-size="18.3" fill="#1c1c1c" stroke="#1c1c1c" stroke-width="0.35" xml:space="preserve">2</text>
<line x1="95.10" y1="888.70" x2="98.90" y2="888.70" stroke="#444" stroke-width="1.2"/>
<text transform="translate(77.21,895.11) scale(1.070,1)" font-size="18.3" fill="#1c1c1c" stroke="#1c1c1c" stroke-width="0.35" xml:space="preserve">3</text>
<line x1="176.70" y1="1114.00" x2="176.70" y2="1117.50" stroke="#444" stroke-width="1"/>
<line x1="255.00" y1="1114.00" x2="255.00" y2="1117.50" stroke="#444" stroke-width="1"/>
<path d="M125.3,907.3 L125.3,898.9 L151.8,898.9 L151.8,907.3" fill="none" stroke="#555" stroke-width="1.2"/>
<path d="M138.60,885.72 L138.60,881.95 M138.60,885.72 L135.45,884.76 M138.60,885.72 L141.75,884.76 M138.60,885.72 L136.52,889.05 M138.60,885.72 L140.68,889.05 " stroke="#111" stroke-width="1.8" stroke-linecap="round" fill="none"/>
<text transform="translate(44.02,876.70) scale(1.000,1)" font-size="21.3" font-weight="bold" fill="#111" stroke="#111" stroke-width="0.35" xml:space="preserve">F</text>
<text transform="translate(56.80,1096.44) rotate(-90) scale(1,0.950)" font-size="19.2" fill="#1c1c1c" stroke="#1c1c1c" stroke-width="0.35" xml:space="preserve">Plasma insulin (ng/ml)</text>
<text transform="translate(134.31,1141.50) scale(1.030,1)" font-size="16.8" fill="#1c1c1c" stroke="#1c1c1c" stroke-width="0.35" xml:space="preserve">0</text>
<text transform="translate(198.47,1141.50) scale(1.080,1)" font-size="16.8" fill="#1c1c1c" stroke="#1c1c1c" stroke-width="0.35" xml:space="preserve">30</text>
<text transform="translate(136.66,1167.90) scale(0.950,1)" font-size="18" fill="#1c1c1c" stroke="#1c1c1c" stroke-width="0.35" xml:space="preserve">Time (min)</text>
<line x1="257.10" y1="978.20" x2="257.10" y2="1000.00" stroke="#6a6a6a" stroke-width="1.2"/>
<circle cx="250.8" cy="921.0" r="3.8" fill="#dedede" stroke="#6a6a6a" stroke-width="0.8"/>
<circle cx="263.4" cy="921.0" r="3.8" fill="#dedede" stroke="#6a6a6a" stroke-width="0.8"/>
<ellipse cx="257.1" cy="950.2" rx="14" ry="28" fill="#d9d9d9" stroke="#5a5a5a" stroke-width="0.9"/>
<path d="M252.5,925.2 C251.9,916.0 254.9,912.0 257.1,912.0 C259.3,912.0 262.3,916.0 261.7,925.2 Z" fill="#dedede" stroke="#6a6a6a" stroke-width="0.8"/>
<circle cx="253.6" cy="919.0" r="1.35" fill="#111"/>
<circle cx="260.6" cy="919.0" r="1.35" fill="#111"/>
<line x1="246.10" y1="914.20" x2="268.10" y2="914.20" stroke="#8a8a8a" stroke-width="0.8"/>
<line x1="246.10" y1="915.60" x2="268.10" y2="915.60" stroke="#9a9a9a" stroke-width="0.7"/>
<line x1="300.10" y1="978.20" x2="300.10" y2="1000.00" stroke="#6a6a6a" stroke-width="1.2"/>
<circle cx="293.8" cy="921.0" r="3.8" fill="#dedede" stroke="#6a6a6a" stroke-width="0.8"/>
<circle cx="306.4" cy="921.0" r="3.8" fill="#dedede" stroke="#6a6a6a" stroke-width="0.8"/>
<ellipse cx="300.1" cy="950.2" rx="14" ry="28" fill="#d9d9d9" stroke="#5a5a5a" stroke-width="0.9"/>
<path d="M295.5,925.2 C294.9,916.0 297.9,912.0 300.1,912.0 C302.3,912.0 305.3,916.0 304.7,925.2 Z" fill="#dedede" stroke="#6a6a6a" stroke-width="0.8"/>
<circle cx="296.6" cy="919.0" r="1.35" fill="#111"/>
<circle cx="303.6" cy="919.0" r="1.35" fill="#111"/>
<line x1="289.10" y1="914.20" x2="311.10" y2="914.20" stroke="#8a8a8a" stroke-width="0.8"/>
<line x1="289.10" y1="915.60" x2="311.10" y2="915.60" stroke="#9a9a9a" stroke-width="0.7"/>
<text transform="translate(225.60,900.50) scale(1.090,1)" font-size="16" fill="#1c1c1c" stroke="#1c1c1c" stroke-width="0.35" xml:space="preserve">Naive</text>
<text transform="translate(280.31,880.90) scale(1.090,1)" font-size="16" fill="#1c1c1c" stroke="#1c1c1c" stroke-width="0.35" xml:space="preserve">AgRP-</text>
<text transform="translate(280.22,900.50) scale(1.090,1)" font-size="16" fill="#1c1c1c" stroke="#1c1c1c" stroke-width="0.35" xml:space="preserve">ablated</text>
<line x1="460.40" y1="1056.20" x2="460.40" y2="1040.40" stroke="#555" stroke-width="1.0"/>
<line x1="458.60" y1="1040.40" x2="462.20" y2="1040.40" stroke="#333" stroke-width="1.2"/>
<rect x="447.60" y="1056.20" width="25.60" height="58.80" fill="#231f20" stroke="none" stroke-width="0"/>
<line x1="486.35" y1="927.60" x2="486.35" y2="914.30" stroke="#555" stroke-width="1.0"/>
<line x1="484.55" y1="914.30" x2="488.15" y2="914.30" stroke="#333" stroke-width="1.2"/>
<rect x="473.60" y="928.00" width="25.50" height="187.00" fill="#e3323a" stroke="#2a2a2a" stroke-width="0.8"/>
<line x1="527.50" y1="1071.30" x2="527.50" y2="1065.70" stroke="#555" stroke-width="1.0"/>
<line x1="525.70" y1="1065.70" x2="529.30" y2="1065.70" stroke="#333" stroke-width="1.2"/>
<rect x="514.20" y="1071.30" width="26.60" height="43.70" fill="#231f20" stroke="none" stroke-width="0"/>
<line x1="553.95" y1="1042.90" x2="553.95" y2="1039.40" stroke="#555" stroke-width="1.0"/>
<line x1="552.15" y1="1039.40" x2="555.75" y2="1039.40" stroke="#333" stroke-width="1.2"/>
<rect x="541.20" y="1043.30" width="25.50" height="71.70" fill="#e3323a" stroke="#2a2a2a" stroke-width="0.8"/>
<line x1="430.90" y1="896.20" x2="430.90" y2="1115.00" stroke="#444" stroke-width="1.2"/>
<line x1="430.10" y1="1115.00" x2="583.50" y2="1115.00" stroke="#444" stroke-width="1.2"/>
<line x1="427.10" y1="1115.00" x2="430.90" y2="1115.00" stroke="#444" stroke-width="1.2"/>
<text transform="translate(408.86,1121.83) scale(0.930,1)" font-size="19.5" fill="#1c1c1c" stroke="#1c1c1c" stroke-width="0.35" xml:space="preserve">0</text>
<line x1="427.10" y1="1078.62" x2="430.90" y2="1078.62" stroke="#444" stroke-width="1.2"/>
<text transform="translate(409.04,1085.44) scale(0.930,1)" font-size="19.5" fill="#1c1c1c" stroke="#1c1c1c" stroke-width="0.35" xml:space="preserve">1</text>
<line x1="427.10" y1="1042.23" x2="430.90" y2="1042.23" stroke="#444" stroke-width="1.2"/>
<text transform="translate(409.04,1049.06) scale(0.930,1)" font-size="19.5" fill="#1c1c1c" stroke="#1c1c1c" stroke-width="0.35" xml:space="preserve">2</text>
<line x1="427.10" y1="1005.85" x2="430.90" y2="1005.85" stroke="#444" stroke-width="1.2"/>
<text transform="translate(408.95,1012.68) scale(0.930,1)" font-size="19.5" fill="#1c1c1c" stroke="#1c1c1c" stroke-width="0.35" xml:space="preserve">3</text>
<line x1="427.10" y1="969.47" x2="430.90" y2="969.47" stroke="#444" stroke-width="1.2"/>
<text transform="translate(408.68,976.29) scale(0.930,1)" font-size="19.5" fill="#1c1c1c" stroke="#1c1c1c" stroke-width="0.35" xml:space="preserve">4</text>
<line x1="427.10" y1="933.08" x2="430.90" y2="933.08" stroke="#444" stroke-width="1.2"/>
<text transform="translate(408.86,939.91) scale(0.930,1)" font-size="19.5" fill="#1c1c1c" stroke="#1c1c1c" stroke-width="0.35" xml:space="preserve">5</text>
<line x1="427.10" y1="896.70" x2="430.90" y2="896.70" stroke="#444" stroke-width="1.2"/>
<text transform="translate(408.95,903.53) scale(0.930,1)" font-size="19.5" fill="#1c1c1c" stroke="#1c1c1c" stroke-width="0.35" xml:space="preserve">6</text>
<line x1="506.50" y1="1115.00" x2="506.50" y2="1118.50" stroke="#444" stroke-width="1"/>
<line x1="583.50" y1="1115.00" x2="583.50" y2="1118.50" stroke="#444" stroke-width="1"/>
<path d="M453.2,898.7 L453.2,892.2 L486.8,892.2 L486.8,898.7" fill="none" stroke="#555" stroke-width="1.2"/>
<path d="M472.00,878.37 L472.00,873.83 M472.00,878.37 L468.25,877.21 M472.00,878.37 L475.75,877.21 M472.00,878.37 L469.52,882.37 M472.00,878.37 L474.48,882.37 " stroke="#111" stroke-width="2.0" stroke-linecap="round" fill="none"/>
<text transform="translate(373.15,878.20) scale(1.000,1)" font-size="21.3" font-weight="bold" fill="#111" stroke="#111" stroke-width="0.35" xml:space="preserve">G</text>
<text transform="translate(387.20,1105.31) rotate(-90) scale(1,0.950)" font-size="20.1" fill="#1c1c1c" stroke="#1c1c1c" stroke-width="0.35" xml:space="preserve">Plasma insulin (ng/ml)</text>
<text transform="translate(467.86,1141.30) scale(1.100,1)" font-size="16.8" fill="#1c1c1c" stroke="#1c1c1c" stroke-width="0.35" xml:space="preserve">0</text>
<text transform="translate(531.96,1141.30) scale(1.100,1)" font-size="16.8" fill="#1c1c1c" stroke="#1c1c1c" stroke-width="0.35" xml:space="preserve">30</text>
<text transform="translate(464.75,1166.90) scale(0.980,1)" font-size="18" fill="#1c1c1c" stroke="#1c1c1c" stroke-width="0.35" xml:space="preserve">Time (min)</text>
<line x1="560.60" y1="973.40" x2="560.60" y2="995.00" stroke="#6a6a6a" stroke-width="1.2"/>
<circle cx="554.0" cy="921.2" r="3.3" fill="#dedede" stroke="#6a6a6a" stroke-width="0.8"/>
<circle cx="567.2" cy="921.2" r="3.3" fill="#dedede" stroke="#6a6a6a" stroke-width="0.8"/>
<ellipse cx="560.6" cy="947.9" rx="13" ry="25.5" fill="#d9d9d9" stroke="#5a5a5a" stroke-width="0.9"/>
<path d="M556.0,925.4 C555.4,916.7 558.4,912.7 560.6,912.7 C562.8,912.7 565.8,916.7 565.2,925.4 Z" fill="#dedede" stroke="#6a6a6a" stroke-width="0.8"/>
<circle cx="557.1" cy="919.7" r="1.35" fill="#111"/>
<circle cx="564.1" cy="919.7" r="1.35" fill="#111"/>
<line x1="550.90" y1="914.90" x2="570.30" y2="914.90" stroke="#8a8a8a" stroke-width="0.8"/>
<line x1="550.90" y1="916.30" x2="570.30" y2="916.30" stroke="#9a9a9a" stroke-width="0.7"/>
<line x1="603.20" y1="974.10" x2="603.20" y2="996.00" stroke="#6a6a6a" stroke-width="1.2"/>
<circle cx="596.6" cy="919.7" r="3.3" fill="#dedede" stroke="#6a6a6a" stroke-width="0.8"/>
<circle cx="609.8" cy="919.7" r="3.3" fill="#dedede" stroke="#6a6a6a" stroke-width="0.8"/>
<ellipse cx="603.2" cy="947.5" rx="23.5" ry="26.6" fill="#d9d9d9" stroke="#5a5a5a" stroke-width="0.9"/>
<path d="M598.6,923.9 C598.0,918.2 601.0,914.2 603.2,914.2 C605.4,914.2 608.4,918.2 607.8,923.9 Z" fill="#dedede" stroke="#6a6a6a" stroke-width="0.8"/>
<circle cx="599.7" cy="921.2" r="1.35" fill="#111"/>
<circle cx="606.7" cy="921.2" r="1.35" fill="#111"/>
<line x1="591.20" y1="916.40" x2="615.20" y2="916.40" stroke="#8a8a8a" stroke-width="0.8"/>
<line x1="591.20" y1="917.80" x2="615.20" y2="917.80" stroke="#9a9a9a" stroke-width="0.7"/>
<text transform="translate(530.91,891.10) scale(1.100,1)" font-size="15.8" fill="#1c1c1c" stroke="#1c1c1c" stroke-width="0.35" xml:space="preserve">Naive</text>
<text transform="translate(583.31,881.50) scale(1.100,1)" font-size="15.8" fill="#1c1c1c" stroke="#1c1c1c" stroke-width="0.35" xml:space="preserve">AgRP-</text>
<text transform="translate(582.62,901.90) scale(1.100,1)" font-size="15.8" fill="#1c1c1c" stroke="#1c1c1c" stroke-width="0.35" xml:space="preserve">ablated</text>
<rect x="84.50" y="1197.70" width="13.80" height="11.20" fill="#231f20" stroke="none" stroke-width="0"/>
<rect x="84.90" y="1225.40" width="12.00" height="9.40" fill="#e3323a" stroke="#222" stroke-width="0.8"/>
<text transform="translate(104.46,1209.50) scale(1.066,1)" font-size="18.1" fill="#1c1c1c" stroke="#1c1c1c" stroke-width="0.35" xml:space="preserve">Naive mice</text>
<text transform="translate(105.90,1234.60) scale(1.070,1)" font-size="18.1" fill="#1c1c1c" stroke="#1c1c1c" stroke-width="0.35" xml:space="preserve">AgRP-ablated mice</text></svg>
</body></html>
